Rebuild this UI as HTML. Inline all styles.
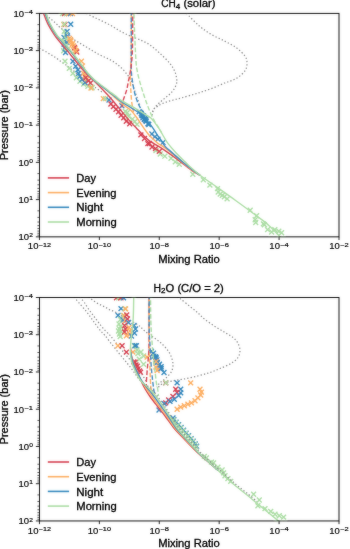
<!DOCTYPE html>
<html><head><meta charset="utf-8"><style>
html,body{margin:0;padding:0;background:#fff;width:350px;height:549px;overflow:hidden}
svg{display:block;will-change:transform}
text{font-family:"Liberation Sans",sans-serif;stroke:#000;stroke-width:0.3px;paint-order:stroke}
text.tk{stroke-width:0.18px}
</style></head><body>
<svg width="350" height="549" viewBox="0 0 350 549" font-family="Liberation Sans, sans-serif">
<defs><filter id="bl" x="0" y="0" width="350" height="549" filterUnits="userSpaceOnUse"><feGaussianBlur in="SourceGraphic" stdDeviation="0.8" result="b"/><feComposite in="SourceGraphic" in2="b" operator="arithmetic" k1="0" k2="0.65" k3="0.35" k4="0"/></filter><filter id="tb" x="0" y="0" width="350" height="549" filterUnits="userSpaceOnUse"><feGaussianBlur in="SourceGraphic" stdDeviation="0.8" result="b"/><feComposite in="SourceGraphic" in2="b" operator="arithmetic" k1="0" k2="0.75" k3="0.25" k4="0"/></filter></defs>
<rect width="350" height="549" fill="#fff"/>
<g filter="url(#bl)">
<defs><clipPath id="c0"><rect x="39.45" y="13.4" width="299.55" height="223.45"/></clipPath><clipPath id="c1"><rect x="39.45" y="297.5" width="299.55" height="223.45"/></clipPath></defs>
<g clip-path="url(#c0)">
<path d="M46.50,14.80 C47.02,15.33 48.62,17.10 49.60,18.00 C50.58,18.90 51.50,19.43 52.40,20.20 C53.30,20.97 54.15,21.82 55.00,22.60 C55.85,23.38 56.67,24.10 57.50,24.90 C58.33,25.70 58.75,26.30 60.00,27.40 C61.25,28.50 63.33,30.10 65.00,31.50 C66.67,32.90 68.40,34.38 70.00,35.80 C71.60,37.22 73.25,38.95 74.60,40.00 C75.95,41.05 76.92,41.38 78.10,42.10 C79.28,42.82 80.50,43.58 81.70,44.30 C82.90,45.02 84.10,45.68 85.30,46.40 C86.50,47.12 87.72,47.88 88.90,48.60 C90.08,49.32 91.22,49.98 92.40,50.70 C93.58,51.42 94.73,52.18 96.00,52.90 C97.27,53.62 98.48,54.25 100.00,55.00 C101.52,55.75 103.38,56.58 105.10,57.40 C106.82,58.22 108.58,58.97 110.30,59.90 C112.02,60.83 113.83,61.93 115.40,63.00 C116.97,64.07 118.27,65.03 119.70,66.30 C121.13,67.57 122.72,69.17 124.00,70.60 C125.28,72.03 126.40,73.62 127.40,74.90 C128.40,76.18 129.13,76.73 130.00,78.30 C130.87,79.87 131.88,82.45 132.60,84.30 C133.32,86.15 133.73,87.68 134.30,89.40 C134.87,91.12 135.38,92.83 136.00,94.60 C136.62,96.37 137.33,98.10 138.00,100.00 C138.67,101.90 139.67,105.00 140.00,106.00" fill="none" stroke="#878787" stroke-width="1.25" stroke-dasharray="1.3 2.1" stroke-dashoffset="0.00" stroke-linecap="butt" stroke-linejoin="round"/>
<path d="M39.50,48.20 C39.90,48.45 40.92,49.17 41.90,49.70 C42.88,50.23 44.22,50.75 45.40,51.40 C46.58,52.05 47.80,52.88 49.00,53.60 C50.20,54.32 51.42,54.98 52.60,55.70 C53.78,56.42 54.92,57.07 56.10,57.90 C57.28,58.73 58.50,59.87 59.70,60.70 C60.90,61.53 62.10,62.07 63.30,62.90 C64.50,63.73 65.83,64.87 66.90,65.70 C67.97,66.53 68.63,67.07 69.70,67.90 C70.77,68.73 72.10,69.75 73.30,70.70 C74.50,71.65 75.72,72.65 76.90,73.60 C78.08,74.55 78.55,75.00 80.40,76.40 C82.25,77.80 85.40,80.07 88.00,82.00 C90.60,83.93 93.67,86.33 96.00,88.00 C98.33,89.67 101.00,91.33 102.00,92.00" fill="none" stroke="#878787" stroke-width="1.25" stroke-dasharray="1.3 2.1" stroke-dashoffset="0.00" stroke-linecap="butt" stroke-linejoin="round"/>
<path d="M86.50,13.40 C86.87,13.60 87.75,14.12 88.70,14.60 C89.65,15.08 91.05,15.73 92.20,16.30 C93.35,16.87 94.60,17.52 95.60,18.00 C96.60,18.48 95.80,18.03 98.20,19.20 C100.60,20.37 106.37,23.03 110.00,25.00 C113.63,26.97 116.67,29.17 120.00,31.00 C123.33,32.83 126.83,34.60 130.00,36.00 C133.17,37.40 135.78,37.97 139.00,39.40 C142.22,40.83 145.87,42.32 149.30,44.60 C152.73,46.88 156.17,49.97 159.60,53.10 C163.03,56.23 167.33,60.25 169.90,63.40 C172.47,66.55 173.87,69.40 175.00,72.00 C176.13,74.60 176.42,77.18 176.70,79.00 C176.98,80.82 177.12,81.25 176.70,82.90 C176.28,84.55 175.33,87.05 174.20,88.90 C173.07,90.75 171.48,92.43 169.90,94.00 C168.32,95.57 166.42,96.87 164.70,98.30 C162.98,99.73 161.17,101.17 159.60,102.60 C158.03,104.03 156.45,105.33 155.30,106.90 C154.15,108.47 153.27,110.43 152.70,112.00 C152.13,113.57 152.03,115.58 151.90,116.30" fill="none" stroke="#878787" stroke-width="1.25" stroke-dasharray="1.3 2.1" stroke-dashoffset="0.00" stroke-linecap="butt" stroke-linejoin="round"/>
<path d="M186.50,13.40 C188.58,15.45 194.92,22.22 199.00,25.70 C203.08,29.18 206.72,31.73 211.00,34.30 C215.28,36.87 220.42,38.82 224.70,41.10 C228.98,43.38 233.27,45.42 236.70,48.00 C240.13,50.58 243.58,54.03 245.30,56.60 C247.02,59.17 247.00,61.12 247.00,63.40 C247.00,65.68 246.73,68.02 245.30,70.30 C243.87,72.58 240.68,75.38 238.40,77.10 C236.12,78.82 233.88,79.62 231.60,80.60 C229.32,81.58 227.57,81.87 224.70,83.00 C221.83,84.13 218.02,85.98 214.40,87.40 C210.78,88.82 206.42,90.35 203.00,91.50 C199.58,92.65 197.42,93.25 193.90,94.30 C190.38,95.35 185.33,96.85 181.90,97.80 C178.47,98.75 176.17,99.20 173.30,100.00 C170.43,100.80 167.27,101.60 164.70,102.60 C162.13,103.60 159.75,104.87 157.90,106.00 C156.05,107.13 154.58,108.07 153.60,109.40 C152.62,110.73 152.27,113.23 152.00,114.00" fill="none" stroke="#878787" stroke-width="1.25" stroke-dasharray="1.3 2.1" stroke-dashoffset="0.00" stroke-linecap="butt" stroke-linejoin="round"/>
<path d="M60.05,11.15 L64.95,16.05 M60.05,16.05 L64.95,11.15" stroke="#abdda4" stroke-width="1.35" fill="none"/>
<path d="M62.05,11.15 L66.95,16.05 M62.05,16.05 L66.95,11.15" stroke="#d53e4f" stroke-width="1.35" fill="none"/>
<path d="M64.05,11.15 L68.95,16.05 M64.05,16.05 L68.95,11.15" stroke="#abdda4" stroke-width="1.35" fill="none"/>
<path d="M66.05,11.15 L70.95,16.05 M66.05,16.05 L70.95,11.15" stroke="#fdae61" stroke-width="1.35" fill="none"/>
<path d="M68.05,11.15 L72.95,16.05 M68.05,16.05 L72.95,11.15" stroke="#3288bd" stroke-width="1.35" fill="none"/>
<path d="M70.05,11.15 L74.95,16.05 M70.05,16.05 L74.95,11.15" stroke="#fdae61" stroke-width="1.35" fill="none"/>
<path d="M62.55,22.05 L67.45,26.95 M62.55,26.95 L67.45,22.05" stroke="#d53e4f" stroke-width="1.35" fill="none"/>
<path d="M61.35,22.05 L66.25,26.95 M61.35,26.95 L66.25,22.05" stroke="#fdae61" stroke-width="1.35" fill="none"/>
<path d="M61.85,21.85 L66.75,26.75 M61.85,26.75 L66.75,21.85" stroke="#abdda4" stroke-width="1.35" fill="none"/>
<path d="M68.25,21.85 L73.15,26.75 M68.25,26.75 L73.15,21.85" stroke="#3288bd" stroke-width="1.35" fill="none"/>
<path d="M61.85,28.95 L66.75,33.85 M61.85,33.85 L66.75,28.95" stroke="#abdda4" stroke-width="1.35" fill="none"/>
<path d="M64.65,28.95 L69.55,33.85 M64.65,33.85 L69.55,28.95" stroke="#3288bd" stroke-width="1.35" fill="none"/>
<path d="M63.05,32.05 L67.95,36.95 M63.05,36.95 L67.95,32.05" stroke="#abdda4" stroke-width="1.35" fill="none"/>
<path d="M65.05,33.55 L69.95,38.45 M65.05,38.45 L69.95,33.55" stroke="#3288bd" stroke-width="1.35" fill="none"/>
<path d="M61.55,35.05 L66.45,39.95 M61.55,39.95 L66.45,35.05" stroke="#3288bd" stroke-width="1.35" fill="none"/>
<path d="M64.05,36.55 L68.95,41.45 M64.05,41.45 L68.95,36.55" stroke="#abdda4" stroke-width="1.35" fill="none"/>
<path d="M62.05,38.55 L66.95,43.45 M62.05,43.45 L66.95,38.55" stroke="#abdda4" stroke-width="1.35" fill="none"/>
<path d="M64.55,40.05 L69.45,44.95 M64.55,44.95 L69.45,40.05" stroke="#3288bd" stroke-width="1.35" fill="none"/>
<path d="M61.55,41.55 L66.45,46.45 M61.55,46.45 L66.45,41.55" stroke="#3288bd" stroke-width="1.35" fill="none"/>
<path d="M63.55,43.55 L68.45,48.45 M63.55,48.45 L68.45,43.55" stroke="#abdda4" stroke-width="1.35" fill="none"/>
<path d="M62.05,45.55 L66.95,50.45 M62.05,50.45 L66.95,45.55" stroke="#3288bd" stroke-width="1.35" fill="none"/>
<path d="M64.35,47.05 L69.25,51.95 M64.35,51.95 L69.25,47.05" stroke="#abdda4" stroke-width="1.35" fill="none"/>
<path d="M61.15,48.25 L66.05,53.15 M61.15,53.15 L66.05,48.25" stroke="#abdda4" stroke-width="1.35" fill="none"/>
<path d="M63.05,50.05 L67.95,54.95 M63.05,54.95 L67.95,50.05" stroke="#3288bd" stroke-width="1.35" fill="none"/>
<path d="M67.05,36.05 L71.95,40.95 M67.05,40.95 L71.95,36.05" stroke="#fdae61" stroke-width="1.35" fill="none"/>
<path d="M68.55,38.55 L73.45,43.45 M68.55,43.45 L73.45,38.55" stroke="#fdae61" stroke-width="1.35" fill="none"/>
<path d="M70.05,41.05 L74.95,45.95 M70.05,45.95 L74.95,41.05" stroke="#fdae61" stroke-width="1.35" fill="none"/>
<path d="M71.05,43.55 L75.95,48.45 M71.05,48.45 L75.95,43.55" stroke="#fdae61" stroke-width="1.35" fill="none"/>
<path d="M72.55,46.05 L77.45,50.95 M72.55,50.95 L77.45,46.05" stroke="#fdae61" stroke-width="1.35" fill="none"/>
<path d="M73.85,48.55 L78.75,53.45 M73.85,53.45 L78.75,48.55" stroke="#fdae61" stroke-width="1.35" fill="none"/>
<path d="M72.05,45.05 L76.95,49.95 M72.05,49.95 L76.95,45.05" stroke="#d53e4f" stroke-width="1.35" fill="none"/>
<path d="M74.35,49.55 L79.25,54.45 M74.35,54.45 L79.25,49.55" stroke="#d53e4f" stroke-width="1.35" fill="none"/>
<path d="M68.05,37.55 L72.95,42.45 M68.05,42.45 L72.95,37.55" stroke="#fdae61" stroke-width="1.35" fill="none"/>
<path d="M69.55,42.55 L74.45,47.45 M69.55,47.45 L74.45,42.55" stroke="#fdae61" stroke-width="1.35" fill="none"/>
<path d="M73.05,48.05 L77.95,52.95 M73.05,52.95 L77.95,48.05" stroke="#fdae61" stroke-width="1.35" fill="none"/>
<path d="M62.55,58.85 L67.45,63.75 M62.55,63.75 L67.45,58.85" stroke="#abdda4" stroke-width="1.35" fill="none"/>
<path d="M66.85,65.95 L71.75,70.85 M66.85,70.85 L71.75,65.95" stroke="#abdda4" stroke-width="1.35" fill="none"/>
<path d="M70.45,70.95 L75.35,75.85 M70.45,75.85 L75.35,70.95" stroke="#abdda4" stroke-width="1.35" fill="none"/>
<path d="M73.95,75.25 L78.85,80.15 M73.95,80.15 L78.85,75.25" stroke="#abdda4" stroke-width="1.35" fill="none"/>
<path d="M77.55,78.85 L82.45,83.75 M77.55,83.75 L82.45,78.85" stroke="#abdda4" stroke-width="1.35" fill="none"/>
<path d="M81.15,81.65 L86.05,86.55 M81.15,86.55 L86.05,81.65" stroke="#abdda4" stroke-width="1.35" fill="none"/>
<path d="M85.45,83.85 L90.35,88.75 M85.45,88.75 L90.35,83.85" stroke="#abdda4" stroke-width="1.35" fill="none"/>
<path d="M89.65,85.25 L94.55,90.15 M89.65,90.15 L94.55,85.25" stroke="#abdda4" stroke-width="1.35" fill="none"/>
<path d="M70.45,58.85 L75.35,63.75 M70.45,63.75 L75.35,58.85" stroke="#3288bd" stroke-width="1.35" fill="none"/>
<path d="M73.25,63.85 L78.15,68.75 M73.25,68.75 L78.15,63.85" stroke="#3288bd" stroke-width="1.35" fill="none"/>
<path d="M75.45,67.45 L80.35,72.35 M75.45,72.35 L80.35,67.45" stroke="#3288bd" stroke-width="1.35" fill="none"/>
<path d="M76.15,70.95 L81.05,75.85 M76.15,75.85 L81.05,70.95" stroke="#3288bd" stroke-width="1.35" fill="none"/>
<path d="M77.55,73.85 L82.45,78.75 M77.55,78.75 L82.45,73.85" stroke="#3288bd" stroke-width="1.35" fill="none"/>
<path d="M79.55,77.05 L84.45,81.95 M79.55,81.95 L84.45,77.05" stroke="#3288bd" stroke-width="1.35" fill="none"/>
<path d="M82.55,80.05 L87.45,84.95 M82.55,84.95 L87.45,80.05" stroke="#3288bd" stroke-width="1.35" fill="none"/>
<path d="M78.95,58.85 L83.85,63.75 M78.95,63.75 L83.85,58.85" stroke="#fdae61" stroke-width="1.35" fill="none"/>
<path d="M80.05,63.55 L84.95,68.45 M80.05,68.45 L84.95,63.55" stroke="#fdae61" stroke-width="1.35" fill="none"/>
<path d="M81.15,70.95 L86.05,75.85 M81.15,75.85 L86.05,70.95" stroke="#fdae61" stroke-width="1.35" fill="none"/>
<path d="M82.55,73.55 L87.45,78.45 M82.55,78.45 L87.45,73.55" stroke="#fdae61" stroke-width="1.35" fill="none"/>
<path d="M84.55,76.55 L89.45,81.45 M84.55,81.45 L89.45,76.55" stroke="#fdae61" stroke-width="1.35" fill="none"/>
<path d="M83.25,75.25 L88.15,80.15 M83.25,80.15 L88.15,75.25" stroke="#d53e4f" stroke-width="1.35" fill="none"/>
<path d="M86.15,78.15 L91.05,83.05 M86.15,83.05 L91.05,78.15" stroke="#d53e4f" stroke-width="1.35" fill="none"/>
<path d="M88.05,80.55 L92.95,85.45 M88.05,85.45 L92.95,80.55" stroke="#d53e4f" stroke-width="1.35" fill="none"/>
<path d="M89.45,84.65 L94.35,89.55 M89.45,89.55 L94.35,84.65" stroke="#abdda4" stroke-width="1.35" fill="none"/>
<path d="M88.55,85.55 L93.45,90.45 M88.55,90.45 L93.45,85.55" stroke="#fdae61" stroke-width="1.35" fill="none"/>
<path d="M100.85,96.15 L105.75,101.05 M100.85,101.05 L105.75,96.15" stroke="#fdae61" stroke-width="1.35" fill="none"/>
<path d="M102.95,96.15 L107.85,101.05 M102.95,101.05 L107.85,96.15" stroke="#abdda4" stroke-width="1.35" fill="none"/>
<path d="M106.55,97.55 L111.45,102.45 M106.55,102.45 L111.45,97.55" stroke="#3288bd" stroke-width="1.35" fill="none"/>
<path d="M119.45,103.25 L124.35,108.15 M119.45,108.15 L124.35,103.25" stroke="#3288bd" stroke-width="1.35" fill="none"/>
<path d="M122.95,109.02 L127.85,113.92 M122.95,113.92 L127.85,109.02" stroke="#abdda4" stroke-width="1.35" fill="none"/>
<path d="M124.79,110.26 L129.69,115.16 M124.79,115.16 L129.69,110.26" stroke="#abdda4" stroke-width="1.35" fill="none"/>
<path d="M126.21,113.80 L131.11,118.70 M126.21,118.70 L131.11,113.80" stroke="#abdda4" stroke-width="1.35" fill="none"/>
<path d="M129.92,116.61 L134.82,121.51 M129.92,121.51 L134.82,116.61" stroke="#abdda4" stroke-width="1.35" fill="none"/>
<path d="M132.27,119.22 L137.17,124.12 M132.27,124.12 L137.17,119.22" stroke="#abdda4" stroke-width="1.35" fill="none"/>
<path d="M134.60,121.87 L139.50,126.77 M134.60,126.77 L139.50,121.87" stroke="#abdda4" stroke-width="1.35" fill="none"/>
<path d="M136.70,109.35 L141.60,114.25 M136.70,114.25 L141.60,109.35" stroke="#3288bd" stroke-width="1.35" fill="none"/>
<path d="M138.78,110.98 L143.68,115.88 M138.78,115.88 L143.68,110.98" stroke="#3288bd" stroke-width="1.35" fill="none"/>
<path d="M139.98,113.35 L144.88,118.25 M139.98,118.25 L144.88,113.35" stroke="#3288bd" stroke-width="1.35" fill="none"/>
<path d="M140.45,115.42 L145.35,120.32 M140.45,120.32 L145.35,115.42" stroke="#3288bd" stroke-width="1.35" fill="none"/>
<path d="M141.84,117.06 L146.74,121.96 M141.84,121.96 L146.74,117.06" stroke="#3288bd" stroke-width="1.35" fill="none"/>
<path d="M143.33,118.16 L148.23,123.06 M143.33,123.06 L148.23,118.16" stroke="#3288bd" stroke-width="1.35" fill="none"/>
<path d="M145.47,121.42 L150.37,126.32 M145.47,126.32 L150.37,121.42" stroke="#3288bd" stroke-width="1.35" fill="none"/>
<path d="M146.30,122.00 L151.20,126.90 M146.30,126.90 L151.20,122.00" stroke="#3288bd" stroke-width="1.35" fill="none"/>
<path d="M139.09,112.54 L143.99,117.44 M139.09,117.44 L143.99,112.54" stroke="#3288bd" stroke-width="1.35" fill="none"/>
<path d="M141.16,113.46 L146.06,118.36 M141.16,118.36 L146.06,113.46" stroke="#3288bd" stroke-width="1.35" fill="none"/>
<path d="M142.23,115.88 L147.13,120.78 M142.23,120.78 L147.13,115.88" stroke="#3288bd" stroke-width="1.35" fill="none"/>
<path d="M143.43,116.68 L148.33,121.58 M143.43,121.58 L148.33,116.68" stroke="#3288bd" stroke-width="1.35" fill="none"/>
<path d="M143.79,118.86 L148.69,123.76 M143.79,123.76 L148.69,118.86" stroke="#3288bd" stroke-width="1.35" fill="none"/>
<path d="M149.40,131.57 L154.30,136.47 M149.40,136.47 L154.30,131.57" stroke="#3288bd" stroke-width="1.35" fill="none"/>
<path d="M152.40,134.36 L157.30,139.26 M152.40,139.26 L157.30,134.36" stroke="#3288bd" stroke-width="1.35" fill="none"/>
<path d="M155.52,136.74 L160.42,141.64 M155.52,141.64 L160.42,136.74" stroke="#3288bd" stroke-width="1.35" fill="none"/>
<path d="M160.55,139.97 L165.45,144.87 M160.55,144.87 L165.45,139.97" stroke="#3288bd" stroke-width="1.35" fill="none"/>
<path d="M153.49,148.05 L158.39,152.95 M153.49,152.95 L158.39,148.05" stroke="#abdda4" stroke-width="1.35" fill="none"/>
<path d="M157.77,151.58 L162.67,156.48 M157.77,156.48 L162.67,151.58" stroke="#abdda4" stroke-width="1.35" fill="none"/>
<path d="M162.36,153.73 L167.26,158.63 M162.36,158.63 L167.26,153.73" stroke="#abdda4" stroke-width="1.35" fill="none"/>
<path d="M168.59,155.80 L173.49,160.70 M168.59,160.70 L173.49,155.80" stroke="#abdda4" stroke-width="1.35" fill="none"/>
<path d="M172.84,159.40 L177.74,164.30 M172.84,164.30 L177.74,159.40" stroke="#abdda4" stroke-width="1.35" fill="none"/>
<path d="M176.82,161.76 L181.72,166.66 M176.82,166.66 L181.72,161.76" stroke="#abdda4" stroke-width="1.35" fill="none"/>
<path d="M190.35,171.75 L195.25,176.65 M190.35,176.65 L195.25,171.75" stroke="#abdda4" stroke-width="1.35" fill="none"/>
<path d="M200.85,177.35 L205.75,182.25 M200.85,182.25 L205.75,177.35" stroke="#abdda4" stroke-width="1.35" fill="none"/>
<path d="M207.45,182.65 L212.35,187.55 M207.45,187.55 L212.35,182.65" stroke="#abdda4" stroke-width="1.35" fill="none"/>
<path d="M215.05,186.15 L219.95,191.05 M215.05,191.05 L219.95,186.15" stroke="#abdda4" stroke-width="1.35" fill="none"/>
<path d="M215.75,189.55 L220.65,194.45 M215.75,194.45 L220.65,189.55" stroke="#abdda4" stroke-width="1.35" fill="none"/>
<path d="M217.75,191.65 L222.65,196.55 M217.75,196.55 L222.65,191.65" stroke="#abdda4" stroke-width="1.35" fill="none"/>
<path d="M219.85,192.95 L224.75,197.85 M219.85,197.85 L224.75,192.95" stroke="#abdda4" stroke-width="1.35" fill="none"/>
<path d="M221.95,194.35 L226.85,199.25 M221.95,199.25 L226.85,194.35" stroke="#abdda4" stroke-width="1.35" fill="none"/>
<path d="M224.65,196.45 L229.55,201.35 M224.65,201.35 L229.55,196.45" stroke="#abdda4" stroke-width="1.35" fill="none"/>
<path d="M247.75,207.75 L252.65,212.65 M247.75,212.65 L252.65,207.75" stroke="#abdda4" stroke-width="1.35" fill="none"/>
<path d="M254.15,213.25 L259.05,218.15 M254.15,218.15 L259.05,213.25" stroke="#abdda4" stroke-width="1.35" fill="none"/>
<path d="M252.75,217.35 L257.65,222.25 M252.75,222.25 L257.65,217.35" stroke="#abdda4" stroke-width="1.35" fill="none"/>
<path d="M253.25,220.05 L258.15,224.95 M253.25,224.95 L258.15,220.05" stroke="#abdda4" stroke-width="1.35" fill="none"/>
<path d="M260.95,221.45 L265.85,226.35 M260.95,226.35 L265.85,221.45" stroke="#abdda4" stroke-width="1.35" fill="none"/>
<path d="M261.95,222.35 L266.85,227.25 M261.95,227.25 L266.85,222.35" stroke="#abdda4" stroke-width="1.35" fill="none"/>
<path d="M265.15,227.15 L270.05,232.05 M265.15,232.05 L270.05,227.15" stroke="#abdda4" stroke-width="1.35" fill="none"/>
<path d="M269.15,229.55 L274.05,234.45 M269.15,234.45 L274.05,229.55" stroke="#abdda4" stroke-width="1.35" fill="none"/>
<path d="M272.35,227.15 L277.25,232.05 M272.35,232.05 L277.25,227.15" stroke="#abdda4" stroke-width="1.35" fill="none"/>
<path d="M276.35,228.75 L281.25,233.65 M276.35,233.65 L281.25,228.75" stroke="#abdda4" stroke-width="1.35" fill="none"/>
<path d="M279.15,230.35 L284.05,235.25 M279.15,235.25 L284.05,230.35" stroke="#abdda4" stroke-width="1.35" fill="none"/>
<path d="M108.45,101.55 L113.35,106.45 M108.45,106.45 L113.35,101.55" stroke="#d53e4f" stroke-width="1.35" fill="none"/>
<path d="M110.95,104.15 L115.85,109.05 M110.95,109.05 L115.85,104.15" stroke="#d53e4f" stroke-width="1.35" fill="none"/>
<path d="M113.55,106.75 L118.45,111.65 M113.55,111.65 L118.45,106.75" stroke="#d53e4f" stroke-width="1.35" fill="none"/>
<path d="M116.15,109.25 L121.05,114.15 M116.15,114.15 L121.05,109.25" stroke="#d53e4f" stroke-width="1.35" fill="none"/>
<path d="M118.65,112.75 L123.55,117.65 M118.65,117.65 L123.55,112.75" stroke="#d53e4f" stroke-width="1.35" fill="none"/>
<path d="M121.25,115.25 L126.15,120.15 M121.25,120.15 L126.15,115.25" stroke="#d53e4f" stroke-width="1.35" fill="none"/>
<path d="M123.85,118.75 L128.75,123.65 M123.85,123.65 L128.75,118.75" stroke="#d53e4f" stroke-width="1.35" fill="none"/>
<path d="M127.25,121.25 L132.15,126.15 M127.25,126.15 L132.15,121.25" stroke="#d53e4f" stroke-width="1.35" fill="none"/>
<path d="M138.45,132.45 L143.35,137.35 M138.45,137.35 L143.35,132.45" stroke="#d53e4f" stroke-width="1.35" fill="none"/>
<path d="M142.05,136.05 L146.95,140.95 M142.05,140.95 L146.95,136.05" stroke="#d53e4f" stroke-width="1.35" fill="none"/>
<path d="M147.05,141.05 L151.95,145.95 M147.05,145.95 L151.95,141.05" stroke="#d53e4f" stroke-width="1.35" fill="none"/>
<path d="M153.05,146.15 L157.95,151.05 M153.05,151.05 L157.95,146.15" stroke="#d53e4f" stroke-width="1.35" fill="none"/>
<path d="M145.45,141.15 L150.35,146.05 M145.45,146.05 L150.35,141.15" stroke="#d53e4f" stroke-width="1.35" fill="none"/>
<path d="M149.55,144.55 L154.45,149.45 M149.55,149.45 L154.45,144.55" stroke="#d53e4f" stroke-width="1.35" fill="none"/>
<path d="M156.85,148.95 L161.75,153.85 M156.85,153.85 L161.75,148.95" stroke="#d53e4f" stroke-width="1.35" fill="none"/>
<path d="M133.80,10.00 C133.92,13.33 134.15,21.67 134.50,30.00 C134.85,38.33 135.43,53.10 135.90,60.00 C136.37,66.90 136.60,67.58 137.30,71.40 C138.00,75.22 139.05,79.08 140.10,82.90 C141.15,86.72 142.45,90.78 143.60,94.30 C144.75,97.82 145.85,100.88 147.00,104.00 C148.15,107.12 149.22,110.08 150.50,113.00 C151.78,115.92 153.37,119.08 154.70,121.50 C156.03,123.92 157.37,125.67 158.50,127.50 C159.63,129.33 161.00,131.67 161.50,132.50" fill="none" stroke="#abdda4" stroke-width="1.4" stroke-dasharray="4.7 2.0" stroke-dashoffset="2.70" stroke-linecap="butt" stroke-linejoin="round"/>
<path d="M131.30,10.00 C131.28,16.67 131.28,40.83 131.20,50.00 C131.12,59.17 130.93,60.00 130.80,65.00 C130.67,70.00 130.40,75.83 130.40,80.00 C130.40,84.17 130.62,86.67 130.80,90.00 C130.98,93.33 131.25,97.33 131.50,100.00 C131.75,102.67 131.97,104.00 132.30,106.00 C132.63,108.00 133.30,111.00 133.50,112.00" fill="none" stroke="#fdae61" stroke-width="1.4" stroke-dasharray="4.7 2.0" stroke-dashoffset="2.04" stroke-linecap="butt" stroke-linejoin="round"/>
<path d="M131.30,10.00 C131.30,18.33 131.30,49.77 131.30,60.00 C131.30,70.23 131.07,67.58 131.30,71.40 C131.53,75.22 132.08,79.08 132.70,82.90 C133.32,86.72 134.05,90.78 135.00,94.30 C135.95,97.82 137.23,101.30 138.40,104.00 C139.57,106.70 140.73,108.50 142.00,110.50 C143.27,112.50 145.33,115.08 146.00,116.00" fill="none" stroke="#3288bd" stroke-width="1.4" stroke-dasharray="4.7 2.0" stroke-dashoffset="5.74" stroke-linecap="butt" stroke-linejoin="round"/>
<path d="M132.70,10.00 C132.68,15.00 132.68,32.50 132.60,40.00 C132.52,47.50 132.42,50.83 132.20,55.00 C131.98,59.17 131.60,62.27 131.30,65.00 C131.00,67.73 130.73,69.38 130.40,71.40 C130.07,73.42 129.68,75.18 129.30,77.10 C128.92,79.02 128.48,80.98 128.10,82.90 C127.72,84.82 127.47,86.70 127.00,88.60 C126.53,90.50 125.87,92.57 125.30,94.30 C124.73,96.03 124.08,97.38 123.60,99.00 C123.12,100.62 122.75,102.42 122.40,104.00 C122.05,105.58 121.65,107.75 121.50,108.50" fill="none" stroke="#d53e4f" stroke-width="1.4" stroke-dasharray="4.7 2.0" stroke-dashoffset="0.10" stroke-linecap="butt" stroke-linejoin="round"/>
<path d="M43.60,13.40 C44.27,15.07 45.80,19.82 47.60,23.40 C49.40,26.98 52.62,32.13 54.40,34.90 C56.18,37.67 55.70,36.82 58.30,40.00 C60.90,43.18 65.55,48.62 70.00,54.00 C74.45,59.38 81.07,67.88 85.00,72.30 C88.93,76.72 90.75,77.72 93.60,80.50 C96.45,83.28 99.25,86.05 102.10,89.00 C104.95,91.95 108.05,95.22 110.70,98.20 C113.35,101.18 115.45,103.83 118.00,106.90 C120.55,109.97 123.67,113.85 126.00,116.60 C128.33,119.35 130.28,121.50 132.00,123.40 C133.72,125.30 134.87,126.47 136.30,128.00 C137.73,129.53 139.17,131.12 140.60,132.60 C142.03,134.08 143.48,135.57 144.90,136.90 C146.32,138.23 147.53,139.45 149.10,140.60 C150.67,141.75 152.43,142.68 154.30,143.80 C156.17,144.92 157.08,145.17 160.30,147.30 C163.52,149.43 169.48,153.60 173.60,156.60 C177.72,159.60 181.93,162.97 185.00,165.30 C188.07,167.63 189.50,168.95 192.00,170.60 C194.50,172.25 198.67,174.43 200.00,175.20" fill="none" stroke="#d53e4f" stroke-width="1.4" stroke-linecap="butt" stroke-linejoin="round"/>
<path d="M45.10,13.40 C45.77,15.07 47.28,19.82 49.10,23.40 C50.92,26.98 54.05,32.10 56.00,34.90 C57.95,37.70 58.08,37.08 60.80,40.20 C63.52,43.32 68.13,48.38 72.30,53.60 C76.47,58.82 82.60,67.48 85.80,71.50 C89.00,75.52 89.72,75.90 91.50,77.70 C93.28,79.50 94.67,80.77 96.50,82.30 C98.33,83.83 100.80,85.58 102.50,86.90 C104.20,88.22 105.20,88.93 106.70,90.20 C108.20,91.47 109.53,92.73 111.50,94.50 C113.47,96.27 116.33,98.95 118.50,100.80 C120.67,102.65 122.40,103.98 124.50,105.60 C126.60,107.22 129.13,108.60 131.10,110.50 C133.07,112.40 134.82,115.00 136.30,117.00 C137.78,119.00 138.72,120.62 140.00,122.50 C141.28,124.38 142.62,126.33 144.00,128.30 C145.38,130.27 146.87,132.58 148.30,134.30 C149.73,136.02 151.03,137.12 152.60,138.60 C154.17,140.08 155.87,141.82 157.70,143.20 C159.53,144.58 160.95,145.00 163.60,146.90 C166.25,148.80 170.03,151.70 173.60,154.60 C177.17,157.50 181.93,161.73 185.00,164.30 C188.07,166.87 189.50,168.18 192.00,170.00 C194.50,171.82 198.67,174.33 200.00,175.20" fill="none" stroke="#fdae61" stroke-width="1.4" stroke-linecap="butt" stroke-linejoin="round"/>
<path d="M45.20,13.40 C45.87,15.07 47.38,19.82 49.20,23.40 C51.02,26.98 54.15,32.10 56.10,34.90 C58.05,37.70 58.18,37.08 60.90,40.20 C63.62,43.32 68.23,48.38 72.40,53.60 C76.57,58.82 82.70,67.48 85.90,71.50 C89.10,75.52 89.82,75.90 91.60,77.70 C93.38,79.50 94.77,80.77 96.60,82.30 C98.43,83.83 100.93,85.62 102.60,86.90 C104.27,88.18 105.20,88.90 106.60,90.00 C108.00,91.10 109.60,92.40 111.00,93.50 C112.40,94.60 113.27,95.23 115.00,96.60 C116.73,97.97 118.42,99.65 121.40,101.70 C124.38,103.75 129.47,106.67 132.90,108.90 C136.33,111.13 139.43,112.87 142.00,115.10 C144.57,117.33 146.53,120.22 148.30,122.30 C150.07,124.38 151.17,125.60 152.60,127.60 C154.03,129.60 155.48,132.18 156.90,134.30 C158.32,136.42 159.75,138.32 161.10,140.30 C162.45,142.28 162.92,143.92 165.00,146.20 C167.08,148.48 170.75,151.45 173.60,154.00 C176.45,156.55 179.03,158.92 182.10,161.50 C185.17,164.08 189.02,167.22 192.00,169.50 C194.98,171.78 198.67,174.25 200.00,175.20" fill="none" stroke="#3288bd" stroke-width="1.4" stroke-linecap="butt" stroke-linejoin="round"/>
<path d="M45.90,13.40 C46.57,15.07 48.08,19.82 49.90,23.40 C51.72,26.98 54.88,32.13 56.80,34.90 C58.72,37.67 58.72,36.93 61.40,40.00 C64.08,43.07 68.75,48.10 72.90,53.30 C77.05,58.50 83.12,67.18 86.30,71.20 C89.48,75.22 90.22,75.60 92.00,77.40 C93.78,79.20 95.17,80.48 97.00,82.00 C98.83,83.52 101.33,85.25 103.00,86.50 C104.67,87.75 105.60,88.43 107.00,89.50 C108.40,90.57 110.00,91.85 111.40,92.90 C112.80,93.95 113.72,94.52 115.40,95.80 C117.08,97.08 118.58,98.75 121.50,100.60 C124.42,102.45 129.10,104.70 132.90,106.90 C136.70,109.10 141.30,111.95 144.30,113.80 C147.30,115.65 149.10,116.45 150.90,118.00 C152.70,119.55 153.68,121.25 155.10,123.10 C156.52,124.95 158.17,127.20 159.40,129.10 C160.63,131.00 161.08,132.12 162.50,134.50 C163.92,136.88 165.58,140.28 167.90,143.40 C170.22,146.52 173.55,150.13 176.40,153.20 C179.25,156.27 182.40,159.23 185.00,161.80 C187.60,164.37 189.50,166.37 192.00,168.60 C194.50,170.83 196.83,172.80 200.00,175.20 C203.17,177.60 205.00,178.75 211.00,183.00 C217.00,187.25 227.50,194.55 236.00,200.70 C244.50,206.85 256.33,215.60 262.00,219.90 C267.67,224.20 267.12,223.82 270.00,226.50 C272.88,229.18 277.63,234.17 279.30,236.00 C280.97,237.83 279.88,237.25 280.00,237.50" fill="none" stroke="#abdda4" stroke-width="1.4" stroke-linecap="butt" stroke-linejoin="round"/>
</g>
<g clip-path="url(#c1)">
<path d="M74.50,297.00 C74.70,297.32 75.02,298.00 75.70,298.90 C76.38,299.80 77.40,300.98 78.60,302.40 C79.80,303.82 81.48,305.73 82.90,307.40 C84.32,309.07 85.80,310.73 87.10,312.40 C88.40,314.07 89.50,315.73 90.70,317.40 C91.90,319.07 93.10,320.73 94.30,322.40 C95.50,324.07 96.72,325.85 97.90,327.40 C99.08,328.95 100.22,330.35 101.40,331.70 C102.58,333.05 103.57,333.78 105.00,335.50 C106.43,337.22 108.17,339.67 110.00,342.00 C111.83,344.33 114.00,347.00 116.00,349.50 C118.00,352.00 120.10,354.67 122.00,357.00 C123.90,359.33 125.65,361.33 127.40,363.50 C129.15,365.67 130.90,367.83 132.50,370.00 C134.10,372.17 135.58,374.58 137.00,376.50 C138.42,378.42 139.83,380.08 141.00,381.50 C142.17,382.92 143.50,384.42 144.00,385.00" fill="none" stroke="#878787" stroke-width="1.25" stroke-dasharray="1.3 2.1" stroke-dashoffset="0.00" stroke-linecap="butt" stroke-linejoin="round"/>
<path d="M80.50,297.00 C80.65,297.32 80.77,298.00 81.40,298.90 C82.03,299.80 83.22,300.87 84.30,302.40 C85.38,303.93 86.60,306.18 87.90,308.10 C89.20,310.02 90.68,311.98 92.10,313.90 C93.52,315.82 94.97,317.70 96.40,319.60 C97.83,321.50 99.27,323.52 100.70,325.30 C102.13,327.08 103.57,328.75 105.00,330.30 C106.43,331.85 108.23,333.48 109.30,334.60 C110.37,335.72 110.12,335.43 111.40,337.00 C112.68,338.57 115.07,341.58 117.00,344.00 C118.93,346.42 121.00,349.08 123.00,351.50 C125.00,353.92 127.00,356.17 129.00,358.50 C131.00,360.83 133.17,363.33 135.00,365.50 C136.83,367.67 138.67,369.75 140.00,371.50 C141.33,373.25 142.00,374.42 143.00,376.00 C144.00,377.58 145.50,380.17 146.00,381.00" fill="none" stroke="#878787" stroke-width="1.25" stroke-dasharray="1.3 2.1" stroke-dashoffset="0.00" stroke-linecap="butt" stroke-linejoin="round"/>
<path d="M88.50,297.30 C88.75,297.43 89.27,297.60 90.00,298.10 C90.73,298.60 91.72,299.47 92.90,300.30 C94.08,301.13 95.68,302.27 97.10,303.10 C98.52,303.93 99.97,304.58 101.40,305.30 C102.83,306.02 104.38,306.68 105.70,307.40 C107.02,308.12 107.90,308.93 109.30,309.60 C110.70,310.27 112.32,310.50 114.10,311.40 C115.88,312.30 118.02,313.82 120.00,315.00 C121.98,316.18 123.73,317.28 126.00,318.50 C128.27,319.72 131.27,320.97 133.60,322.30 C135.93,323.63 138.28,325.17 140.00,326.50 C141.72,327.83 142.23,328.88 143.90,330.30 C145.57,331.72 147.92,333.47 150.00,335.00 C152.08,336.53 154.57,338.17 156.40,339.50 C158.23,340.83 159.33,341.48 161.00,343.00 C162.67,344.52 164.82,346.60 166.40,348.60 C167.98,350.60 169.42,352.60 170.50,355.00 C171.58,357.40 172.65,360.42 172.90,363.00 C173.15,365.58 172.82,368.33 172.00,370.50 C171.18,372.67 169.50,374.33 168.00,376.00 C166.50,377.67 164.45,379.25 163.00,380.50 C161.55,381.75 160.30,382.42 159.30,383.50 C158.30,384.58 157.38,386.42 157.00,387.00" fill="none" stroke="#878787" stroke-width="1.25" stroke-dasharray="1.3 2.1" stroke-dashoffset="0.00" stroke-linecap="butt" stroke-linejoin="round"/>
<path d="M177.00,297.20 C177.50,297.42 177.83,296.95 180.00,298.50 C182.17,300.05 187.00,304.08 190.00,306.50 C193.00,308.92 195.50,310.83 198.00,313.00 C200.50,315.17 202.17,317.25 205.00,319.50 C207.83,321.75 211.67,324.33 215.00,326.50 C218.33,328.67 222.00,330.67 225.00,332.50 C228.00,334.33 230.92,335.83 233.00,337.50 C235.08,339.17 236.33,340.42 237.50,342.50 C238.67,344.58 239.92,347.50 240.00,350.00 C240.08,352.50 239.50,355.25 238.00,357.50 C236.50,359.75 234.00,361.67 231.00,363.50 C228.00,365.33 223.50,367.00 220.00,368.50 C216.50,370.00 213.57,371.30 210.00,372.50 C206.43,373.70 202.77,374.65 198.60,375.70 C194.43,376.75 189.43,377.92 185.00,378.80 C180.57,379.68 175.67,380.22 172.00,381.00 C168.33,381.78 165.33,382.42 163.00,383.50 C160.67,384.58 158.83,386.83 158.00,387.50" fill="none" stroke="#878787" stroke-width="1.25" stroke-dasharray="1.3 2.1" stroke-dashoffset="0.00" stroke-linecap="butt" stroke-linejoin="round"/>
<path d="M114.05,295.25 L118.95,300.15 M114.05,300.15 L118.95,295.25" stroke="#d53e4f" stroke-width="1.35" fill="none"/>
<path d="M116.25,295.25 L121.15,300.15 M116.25,300.15 L121.15,295.25" stroke="#abdda4" stroke-width="1.35" fill="none"/>
<path d="M118.55,295.25 L123.45,300.15 M118.55,300.15 L123.45,295.25" stroke="#d53e4f" stroke-width="1.35" fill="none"/>
<path d="M121.05,295.25 L125.95,300.15 M121.05,300.15 L125.95,295.25" stroke="#3288bd" stroke-width="1.35" fill="none"/>
<path d="M118.55,306.15 L123.45,311.05 M118.55,311.05 L123.45,306.15" stroke="#3288bd" stroke-width="1.35" fill="none"/>
<path d="M122.55,306.15 L127.45,311.05 M122.55,311.05 L127.45,306.15" stroke="#abdda4" stroke-width="1.35" fill="none"/>
<path d="M123.15,306.45 L128.05,311.35 M123.15,311.35 L128.05,306.45" stroke="#fdae61" stroke-width="1.35" fill="none"/>
<path d="M115.65,312.95 L120.55,317.85 M115.65,317.85 L120.55,312.95" stroke="#3288bd" stroke-width="1.35" fill="none"/>
<path d="M120.85,312.95 L125.75,317.85 M120.85,317.85 L125.75,312.95" stroke="#abdda4" stroke-width="1.35" fill="none"/>
<path d="M121.55,313.25 L126.45,318.15 M121.55,318.15 L126.45,313.25" stroke="#fdae61" stroke-width="1.35" fill="none"/>
<path d="M124.25,312.45 L129.15,317.35 M124.25,317.35 L129.15,312.45" stroke="#d53e4f" stroke-width="1.35" fill="none"/>
<path d="M118.05,317.05 L122.95,321.95 M118.05,321.95 L122.95,317.05" stroke="#abdda4" stroke-width="1.35" fill="none"/>
<path d="M120.55,317.55 L125.45,322.45 M120.55,322.45 L125.45,317.55" stroke="#3288bd" stroke-width="1.35" fill="none"/>
<path d="M123.05,318.05 L127.95,322.95 M123.05,322.95 L127.95,318.05" stroke="#fdae61" stroke-width="1.35" fill="none"/>
<path d="M125.05,316.55 L129.95,321.45 M125.05,321.45 L129.95,316.55" stroke="#d53e4f" stroke-width="1.35" fill="none"/>
<path d="M126.05,320.05 L130.95,324.95 M126.05,324.95 L130.95,320.05" stroke="#3288bd" stroke-width="1.35" fill="none"/>
<path d="M116.55,321.55 L121.45,326.45 M116.55,326.45 L121.45,321.55" stroke="#abdda4" stroke-width="1.35" fill="none"/>
<path d="M118.05,324.05 L122.95,328.95 M118.05,328.95 L122.95,324.05" stroke="#abdda4" stroke-width="1.35" fill="none"/>
<path d="M117.05,326.55 L121.95,331.45 M117.05,331.45 L121.95,326.55" stroke="#abdda4" stroke-width="1.35" fill="none"/>
<path d="M118.55,329.05 L123.45,333.95 M118.55,333.95 L123.45,329.05" stroke="#abdda4" stroke-width="1.35" fill="none"/>
<path d="M117.05,331.55 L121.95,336.45 M117.05,336.45 L121.95,331.55" stroke="#abdda4" stroke-width="1.35" fill="none"/>
<path d="M117.75,334.05 L122.65,338.95 M117.75,338.95 L122.65,334.05" stroke="#abdda4" stroke-width="1.35" fill="none"/>
<path d="M116.05,328.55 L120.95,333.45 M116.05,333.45 L120.95,328.55" stroke="#abdda4" stroke-width="1.35" fill="none"/>
<path d="M122.05,323.05 L126.95,327.95 M122.05,327.95 L126.95,323.05" stroke="#d53e4f" stroke-width="1.35" fill="none"/>
<path d="M123.05,326.55 L127.95,331.45 M123.05,331.45 L127.95,326.55" stroke="#d53e4f" stroke-width="1.35" fill="none"/>
<path d="M122.05,329.55 L126.95,334.45 M122.05,334.45 L126.95,329.55" stroke="#d53e4f" stroke-width="1.35" fill="none"/>
<path d="M126.55,325.05 L131.45,329.95 M126.55,329.95 L131.45,325.05" stroke="#fdae61" stroke-width="1.35" fill="none"/>
<path d="M127.55,328.55 L132.45,333.45 M127.55,333.45 L132.45,328.55" stroke="#fdae61" stroke-width="1.35" fill="none"/>
<path d="M127.05,332.05 L131.95,336.95 M127.05,336.95 L131.95,332.05" stroke="#fdae61" stroke-width="1.35" fill="none"/>
<path d="M131.55,323.05 L136.45,327.95 M131.55,327.95 L136.45,323.05" stroke="#3288bd" stroke-width="1.35" fill="none"/>
<path d="M133.05,326.55 L137.95,331.45 M133.05,331.45 L137.95,326.55" stroke="#3288bd" stroke-width="1.35" fill="none"/>
<path d="M132.05,330.55 L136.95,335.45 M132.05,335.45 L136.95,330.55" stroke="#3288bd" stroke-width="1.35" fill="none"/>
<path d="M123.95,333.25 L128.85,338.15 M123.95,338.15 L128.85,333.25" stroke="#fdae61" stroke-width="1.35" fill="none"/>
<path d="M129.05,333.55 L133.95,338.45 M129.05,338.45 L133.95,333.55" stroke="#3288bd" stroke-width="1.35" fill="none"/>
<path d="M115.45,343.25 L120.35,348.15 M115.45,348.15 L120.35,343.25" stroke="#fdae61" stroke-width="1.35" fill="none"/>
<path d="M119.65,343.25 L124.55,348.15 M119.65,348.15 L124.55,343.25" stroke="#d53e4f" stroke-width="1.35" fill="none"/>
<path d="M131.85,343.25 L136.75,348.15 M131.85,348.15 L136.75,343.25" stroke="#abdda4" stroke-width="1.35" fill="none"/>
<path d="M132.55,343.25 L137.45,348.15 M132.55,348.15 L137.45,343.25" stroke="#3288bd" stroke-width="1.35" fill="none"/>
<path d="M123.95,349.65 L128.85,354.55 M123.95,354.55 L128.85,349.65" stroke="#d53e4f" stroke-width="1.35" fill="none"/>
<path d="M130.45,349.65 L135.35,354.55 M130.45,354.55 L135.35,349.65" stroke="#fdae61" stroke-width="1.35" fill="none"/>
<path d="M135.45,351.15 L140.35,356.05 M135.45,356.05 L140.35,351.15" stroke="#abdda4" stroke-width="1.35" fill="none"/>
<path d="M136.85,356.85 L141.75,361.75 M136.85,361.75 L141.75,356.85" stroke="#abdda4" stroke-width="1.35" fill="none"/>
<path d="M133.95,343.25 L138.85,348.15 M133.95,348.15 L138.85,343.25" stroke="#3288bd" stroke-width="1.35" fill="none"/>
<path d="M134.55,347.55 L139.45,352.45 M134.55,352.45 L139.45,347.55" stroke="#abdda4" stroke-width="1.35" fill="none"/>
<path d="M138.55,349.55 L143.45,354.45 M138.55,354.45 L143.45,349.55" stroke="#abdda4" stroke-width="1.35" fill="none"/>
<path d="M141.15,353.55 L146.05,358.45 M141.15,358.45 L146.05,353.55" stroke="#abdda4" stroke-width="1.35" fill="none"/>
<path d="M144.65,354.65 L149.55,359.55 M144.65,359.55 L149.55,354.65" stroke="#fdae61" stroke-width="1.35" fill="none"/>
<path d="M148.95,348.95 L153.85,353.85 M148.95,353.85 L153.85,348.95" stroke="#3288bd" stroke-width="1.35" fill="none"/>
<path d="M153.25,354.65 L158.15,359.55 M153.25,359.55 L158.15,354.65" stroke="#3288bd" stroke-width="1.35" fill="none"/>
<path d="M141.15,361.85 L146.05,366.75 M141.15,366.75 L146.05,361.85" stroke="#abdda4" stroke-width="1.35" fill="none"/>
<path d="M163.25,380.45 L168.15,385.35 M163.25,385.35 L168.15,380.45" stroke="#d53e4f" stroke-width="1.35" fill="none"/>
<path d="M163.45,380.25 L168.35,385.15 M163.45,385.15 L168.35,380.25" stroke="#abdda4" stroke-width="1.35" fill="none"/>
<path d="M174.65,380.45 L179.55,385.35 M174.65,385.35 L179.55,380.45" stroke="#3288bd" stroke-width="1.35" fill="none"/>
<path d="M188.25,380.45 L193.15,385.35 M188.25,385.35 L193.15,380.45" stroke="#fdae61" stroke-width="1.35" fill="none"/>
<path d="M173.25,386.85 L178.15,391.75 M173.25,391.75 L178.15,386.85" stroke="#d53e4f" stroke-width="1.35" fill="none"/>
<path d="M178.25,386.85 L183.15,391.75 M178.25,391.75 L183.15,386.85" stroke="#3288bd" stroke-width="1.35" fill="none"/>
<path d="M178.25,390.45 L183.15,395.35 M178.25,395.35 L183.15,390.45" stroke="#3288bd" stroke-width="1.35" fill="none"/>
<path d="M174.55,390.05 L179.45,394.95 M174.55,394.95 L179.45,390.05" stroke="#d53e4f" stroke-width="1.35" fill="none"/>
<path d="M176.15,393.05 L181.05,397.95 M176.15,397.95 L181.05,393.05" stroke="#3288bd" stroke-width="1.35" fill="none"/>
<path d="M170.45,393.95 L175.35,398.85 M170.45,398.85 L175.35,393.95" stroke="#d53e4f" stroke-width="1.35" fill="none"/>
<path d="M171.85,396.85 L176.75,401.75 M171.85,401.75 L176.75,396.85" stroke="#3288bd" stroke-width="1.35" fill="none"/>
<path d="M166.15,397.55 L171.05,402.45 M166.15,402.45 L171.05,397.55" stroke="#d53e4f" stroke-width="1.35" fill="none"/>
<path d="M167.55,398.95 L172.45,403.85 M167.55,403.85 L172.45,398.95" stroke="#3288bd" stroke-width="1.35" fill="none"/>
<path d="M163.25,400.45 L168.15,405.35 M163.25,405.35 L168.15,400.45" stroke="#d53e4f" stroke-width="1.35" fill="none"/>
<path d="M161.85,401.15 L166.75,406.05 M161.85,406.05 L166.75,401.15" stroke="#3288bd" stroke-width="1.35" fill="none"/>
<path d="M156.55,407.55 L161.45,412.45 M156.55,412.45 L161.45,407.55" stroke="#3288bd" stroke-width="1.35" fill="none"/>
<path d="M170.55,415.55 L175.45,420.45 M170.55,420.45 L175.45,415.55" stroke="#3288bd" stroke-width="1.35" fill="none"/>
<path d="M148.88,348.93 L153.78,353.83 M148.88,353.83 L153.78,348.93" stroke="#3288bd" stroke-width="1.35" fill="none"/>
<path d="M151.04,350.84 L155.94,355.74 M151.04,355.74 L155.94,350.84" stroke="#3288bd" stroke-width="1.35" fill="none"/>
<path d="M151.43,353.80 L156.33,358.70 M151.43,358.70 L156.33,353.80" stroke="#3288bd" stroke-width="1.35" fill="none"/>
<path d="M153.83,355.57 L158.73,360.47 M153.83,360.47 L158.73,355.57" stroke="#3288bd" stroke-width="1.35" fill="none"/>
<path d="M154.45,357.36 L159.35,362.26 M154.45,362.26 L159.35,357.36" stroke="#3288bd" stroke-width="1.35" fill="none"/>
<path d="M154.67,359.96 L159.57,364.86 M154.67,364.86 L159.57,359.96" stroke="#3288bd" stroke-width="1.35" fill="none"/>
<path d="M157.05,361.69 L161.95,366.59 M157.05,366.59 L161.95,361.69" stroke="#3288bd" stroke-width="1.35" fill="none"/>
<path d="M158.69,364.35 L163.59,369.25 M158.69,369.25 L163.59,364.35" stroke="#3288bd" stroke-width="1.35" fill="none"/>
<path d="M158.79,366.30 L163.69,371.20 M158.79,371.20 L163.69,366.30" stroke="#3288bd" stroke-width="1.35" fill="none"/>
<path d="M161.55,370.03 L166.45,374.93 M161.55,374.93 L166.45,370.03" stroke="#3288bd" stroke-width="1.35" fill="none"/>
<path d="M153.06,354.37 L157.96,359.27 M153.06,359.27 L157.96,354.37" stroke="#3288bd" stroke-width="1.35" fill="none"/>
<path d="M153.29,357.75 L158.19,362.65 M153.29,362.65 L158.19,357.75" stroke="#3288bd" stroke-width="1.35" fill="none"/>
<path d="M154.82,359.96 L159.72,364.86 M154.82,364.86 L159.72,359.96" stroke="#3288bd" stroke-width="1.35" fill="none"/>
<path d="M156.07,363.17 L160.97,368.07 M156.07,368.07 L160.97,363.17" stroke="#3288bd" stroke-width="1.35" fill="none"/>
<path d="M157.71,366.05 L162.61,370.95 M157.71,370.95 L162.61,366.05" stroke="#3288bd" stroke-width="1.35" fill="none"/>
<path d="M153.60,359.12 L158.50,364.02 M153.60,364.02 L158.50,359.12" stroke="#fdae61" stroke-width="1.35" fill="none"/>
<path d="M153.48,364.65 L158.38,369.55 M153.48,369.55 L158.38,364.65" stroke="#fdae61" stroke-width="1.35" fill="none"/>
<path d="M154.67,368.09 L159.57,372.99 M154.67,372.99 L159.57,368.09" stroke="#fdae61" stroke-width="1.35" fill="none"/>
<path d="M131.40,359.45 L136.30,364.35 M131.40,364.35 L136.30,359.45" stroke="#d53e4f" stroke-width="1.35" fill="none"/>
<path d="M132.75,359.72 L137.65,364.62 M132.75,364.62 L137.65,359.72" stroke="#d53e4f" stroke-width="1.35" fill="none"/>
<path d="M133.57,362.40 L138.47,367.30 M133.57,367.30 L138.47,362.40" stroke="#d53e4f" stroke-width="1.35" fill="none"/>
<path d="M134.86,363.81 L139.76,368.71 M134.86,368.71 L139.76,363.81" stroke="#d53e4f" stroke-width="1.35" fill="none"/>
<path d="M135.60,366.44 L140.50,371.34 M135.60,371.34 L140.50,366.44" stroke="#d53e4f" stroke-width="1.35" fill="none"/>
<path d="M137.08,368.46 L141.98,373.36 M137.08,373.36 L141.98,368.46" stroke="#d53e4f" stroke-width="1.35" fill="none"/>
<path d="M138.10,369.72 L143.00,374.62 M138.10,374.62 L143.00,369.72" stroke="#d53e4f" stroke-width="1.35" fill="none"/>
<path d="M174.65,406.85 L179.55,411.75 M174.65,411.75 L179.55,406.85" stroke="#fdae61" stroke-width="1.35" fill="none"/>
<path d="M178.25,404.65 L183.15,409.55 M178.25,409.55 L183.15,404.65" stroke="#fdae61" stroke-width="1.35" fill="none"/>
<path d="M181.85,403.25 L186.75,408.15 M181.85,408.15 L186.75,403.25" stroke="#fdae61" stroke-width="1.35" fill="none"/>
<path d="M185.45,401.85 L190.35,406.75 M185.45,406.75 L190.35,401.85" stroke="#fdae61" stroke-width="1.35" fill="none"/>
<path d="M188.95,400.45 L193.85,405.35 M188.95,405.35 L193.85,400.45" stroke="#fdae61" stroke-width="1.35" fill="none"/>
<path d="M192.55,398.25 L197.45,403.15 M192.55,403.15 L197.45,398.25" stroke="#fdae61" stroke-width="1.35" fill="none"/>
<path d="M195.45,395.45 L200.35,400.35 M195.45,400.35 L200.35,395.45" stroke="#fdae61" stroke-width="1.35" fill="none"/>
<path d="M198.25,392.55 L203.15,397.45 M198.25,397.45 L203.15,392.55" stroke="#fdae61" stroke-width="1.35" fill="none"/>
<path d="M198.95,389.65 L203.85,394.55 M198.95,394.55 L203.85,389.65" stroke="#fdae61" stroke-width="1.35" fill="none"/>
<path d="M197.55,386.85 L202.45,391.75 M197.55,391.75 L202.45,386.85" stroke="#fdae61" stroke-width="1.35" fill="none"/>
<path d="M171.45,417.15 L176.35,422.05 M171.45,422.05 L176.35,417.15" stroke="#3288bd" stroke-width="1.35" fill="none"/>
<path d="M170.85,417.75 L175.75,422.65 M170.85,422.65 L175.75,417.75" stroke="#abdda4" stroke-width="1.35" fill="none"/>
<path d="M173.65,419.65 L178.55,424.55 M173.65,424.55 L178.55,419.65" stroke="#3288bd" stroke-width="1.35" fill="none"/>
<path d="M173.05,420.25 L177.95,425.15 M173.05,425.15 L177.95,420.25" stroke="#abdda4" stroke-width="1.35" fill="none"/>
<path d="M176.15,422.35 L181.05,427.25 M176.15,427.25 L181.05,422.35" stroke="#3288bd" stroke-width="1.35" fill="none"/>
<path d="M175.55,422.95 L180.45,427.85 M175.55,427.85 L180.45,422.95" stroke="#abdda4" stroke-width="1.35" fill="none"/>
<path d="M178.65,425.05 L183.55,429.95 M178.65,429.95 L183.55,425.05" stroke="#3288bd" stroke-width="1.35" fill="none"/>
<path d="M178.05,425.65 L182.95,430.55 M178.05,430.55 L182.95,425.65" stroke="#abdda4" stroke-width="1.35" fill="none"/>
<path d="M181.15,427.85 L186.05,432.75 M181.15,432.75 L186.05,427.85" stroke="#3288bd" stroke-width="1.35" fill="none"/>
<path d="M180.55,428.45 L185.45,433.35 M180.55,433.35 L185.45,428.45" stroke="#abdda4" stroke-width="1.35" fill="none"/>
<path d="M183.65,430.65 L188.55,435.55 M183.65,435.55 L188.55,430.65" stroke="#3288bd" stroke-width="1.35" fill="none"/>
<path d="M183.05,431.25 L187.95,436.15 M183.05,436.15 L187.95,431.25" stroke="#abdda4" stroke-width="1.35" fill="none"/>
<path d="M186.15,433.35 L191.05,438.25 M186.15,438.25 L191.05,433.35" stroke="#3288bd" stroke-width="1.35" fill="none"/>
<path d="M185.55,433.95 L190.45,438.85 M185.55,438.85 L190.45,433.95" stroke="#abdda4" stroke-width="1.35" fill="none"/>
<path d="M188.65,436.15 L193.55,441.05 M188.65,441.05 L193.55,436.15" stroke="#3288bd" stroke-width="1.35" fill="none"/>
<path d="M188.05,436.75 L192.95,441.65 M188.05,441.65 L192.95,436.75" stroke="#abdda4" stroke-width="1.35" fill="none"/>
<path d="M190.75,438.65 L195.65,443.55 M190.75,443.55 L195.65,438.65" stroke="#3288bd" stroke-width="1.35" fill="none"/>
<path d="M190.15,439.25 L195.05,444.15 M190.15,444.15 L195.05,439.25" stroke="#abdda4" stroke-width="1.35" fill="none"/>
<path d="M192.85,441.45 L197.75,446.35 M192.85,446.35 L197.75,441.45" stroke="#3288bd" stroke-width="1.35" fill="none"/>
<path d="M192.25,442.05 L197.15,446.95 M192.25,446.95 L197.15,442.05" stroke="#abdda4" stroke-width="1.35" fill="none"/>
<path d="M194.15,443.85 L199.05,448.75 M194.15,448.75 L199.05,443.85" stroke="#3288bd" stroke-width="1.35" fill="none"/>
<path d="M193.55,444.45 L198.45,449.35 M193.55,449.35 L198.45,444.45" stroke="#abdda4" stroke-width="1.35" fill="none"/>
<path d="M201.85,453.95 L206.75,458.85 M201.85,458.85 L206.75,453.95" stroke="#abdda4" stroke-width="1.35" fill="none"/>
<path d="M203.95,455.45 L208.85,460.35 M203.95,460.35 L208.85,455.45" stroke="#abdda4" stroke-width="1.35" fill="none"/>
<path d="M208.95,459.65 L213.85,464.55 M208.95,464.55 L213.85,459.65" stroke="#abdda4" stroke-width="1.35" fill="none"/>
<path d="M211.15,460.45 L216.05,465.35 M211.15,465.35 L216.05,460.45" stroke="#abdda4" stroke-width="1.35" fill="none"/>
<path d="M215.45,464.65 L220.35,469.55 M215.45,469.55 L220.35,464.65" stroke="#abdda4" stroke-width="1.35" fill="none"/>
<path d="M219.65,467.55 L224.55,472.45 M219.65,472.45 L224.55,467.55" stroke="#abdda4" stroke-width="1.35" fill="none"/>
<path d="M221.15,470.45 L226.05,475.35 M221.15,475.35 L226.05,470.45" stroke="#abdda4" stroke-width="1.35" fill="none"/>
<path d="M222.55,473.25 L227.45,478.15 M222.55,478.15 L227.45,473.25" stroke="#abdda4" stroke-width="1.35" fill="none"/>
<path d="M225.45,476.15 L230.35,481.05 M225.45,481.05 L230.35,476.15" stroke="#abdda4" stroke-width="1.35" fill="none"/>
<path d="M228.25,478.95 L233.15,483.85 M228.25,483.85 L233.15,478.95" stroke="#abdda4" stroke-width="1.35" fill="none"/>
<path d="M251.15,491.85 L256.05,496.75 M251.15,496.75 L256.05,491.85" stroke="#abdda4" stroke-width="1.35" fill="none"/>
<path d="M256.85,497.55 L261.75,502.45 M256.85,502.45 L261.75,497.55" stroke="#abdda4" stroke-width="1.35" fill="none"/>
<path d="M255.45,503.25 L260.35,508.15 M255.45,508.15 L260.35,503.25" stroke="#abdda4" stroke-width="1.35" fill="none"/>
<path d="M262.55,506.15 L267.45,511.05 M262.55,511.05 L267.45,506.15" stroke="#abdda4" stroke-width="1.35" fill="none"/>
<path d="M268.25,508.95 L273.15,513.85 M268.25,513.85 L273.15,508.95" stroke="#abdda4" stroke-width="1.35" fill="none"/>
<path d="M272.55,511.85 L277.45,516.75 M272.55,516.75 L277.45,511.85" stroke="#abdda4" stroke-width="1.35" fill="none"/>
<path d="M276.85,513.25 L281.75,518.15 M276.85,518.15 L281.75,513.25" stroke="#abdda4" stroke-width="1.35" fill="none"/>
<path d="M281.15,514.65 L286.05,519.55 M281.15,519.55 L286.05,514.65" stroke="#abdda4" stroke-width="1.35" fill="none"/>
<path d="M150.50,290.00 C150.55,295.00 150.57,311.67 150.80,320.00 C151.03,328.33 151.43,333.10 151.90,340.00 C152.37,346.90 153.03,355.78 153.60,361.40 C154.17,367.02 154.83,370.12 155.30,373.70 C155.77,377.28 156.02,380.43 156.40,382.90 C156.78,385.37 157.25,386.32 157.60,388.50 C157.95,390.68 158.35,394.75 158.50,396.00" fill="none" stroke="#abdda4" stroke-width="1.4" stroke-dasharray="4.7 2.0" stroke-dashoffset="2.98" stroke-linecap="butt" stroke-linejoin="round"/>
<path d="M149.00,290.00 C149.00,298.33 149.07,329.28 149.00,340.00 C148.93,350.72 148.92,349.07 148.60,354.30 C148.28,359.53 147.48,366.27 147.10,371.40 C146.72,376.53 146.32,382.00 146.30,385.10 C146.28,388.20 146.88,389.18 147.00,390.00" fill="none" stroke="#d53e4f" stroke-width="1.4" stroke-dasharray="4.7 2.0" stroke-dashoffset="0.00" stroke-linecap="butt" stroke-linejoin="round"/>
<path d="M149.10,290.00 C149.10,296.67 149.07,321.67 149.10,330.00 C149.13,338.33 149.15,333.57 149.30,340.00 C149.45,346.43 149.77,360.98 150.00,368.60 C150.23,376.22 150.43,381.97 150.70,385.70 C150.97,389.43 151.13,389.28 151.60,391.00 C152.07,392.72 153.18,395.17 153.50,396.00" fill="none" stroke="#fdae61" stroke-width="1.4" stroke-dasharray="4.7 2.0" stroke-dashoffset="4.80" stroke-linecap="butt" stroke-linejoin="round"/>
<path d="M149.20,290.00 C149.20,296.67 149.07,320.83 149.20,330.00 C149.33,339.17 149.63,338.57 150.00,345.00 C150.37,351.43 150.80,361.33 151.40,368.60 C152.00,375.87 153.00,384.20 153.60,388.60 C154.20,393.00 154.77,393.93 155.00,395.00" fill="none" stroke="#3288bd" stroke-width="1.4" stroke-dasharray="4.7 2.0" stroke-dashoffset="1.80" stroke-linecap="butt" stroke-linejoin="round"/>
<path d="M130.60,348.00 C130.72,349.17 130.87,352.75 131.30,355.00 C131.73,357.25 132.52,359.42 133.20,361.50 C133.88,363.58 134.63,365.50 135.40,367.50 C136.17,369.50 136.95,371.50 137.80,373.50 C138.65,375.50 139.32,377.00 140.50,379.50 C141.68,382.00 143.27,385.67 144.85,388.50 C146.43,391.33 147.94,393.58 150.00,396.50 C152.06,399.42 154.68,402.75 157.20,406.00 C159.72,409.25 162.32,412.33 165.10,416.00 C167.88,419.67 170.80,424.25 173.90,428.00 C177.00,431.75 179.78,434.42 183.70,438.50 C187.62,442.58 193.38,448.67 197.40,452.50 C201.43,456.33 204.32,458.45 207.85,461.50 C211.38,464.55 216.81,469.25 218.60,470.80" fill="none" stroke="#d53e4f" stroke-width="1.4" stroke-linecap="butt" stroke-linejoin="round"/>
<path d="M130.70,350.00 C130.85,351.17 131.12,354.75 131.60,357.00 C132.08,359.25 132.87,361.42 133.60,363.50 C134.33,365.58 135.15,367.55 136.00,369.50 C136.85,371.45 137.82,373.37 138.70,375.20 C139.58,377.03 140.04,378.28 141.30,380.50 C142.56,382.72 144.50,385.83 146.28,388.50 C148.07,391.17 149.87,393.58 152.00,396.50 C154.13,399.42 156.64,402.75 159.07,406.00 C161.49,409.25 163.92,412.33 166.57,416.00 C169.22,419.67 171.97,424.25 174.97,428.00 C177.97,431.75 180.76,434.42 184.57,438.50 C188.37,442.58 193.90,448.67 197.80,452.50 C201.70,456.33 204.48,458.45 207.95,461.50 C211.42,464.55 216.82,469.25 218.60,470.80" fill="none" stroke="#fdae61" stroke-width="1.4" stroke-linecap="butt" stroke-linejoin="round"/>
<path d="M130.80,352.00 C130.98,353.17 131.37,356.75 131.90,359.00 C132.43,361.25 133.22,363.50 134.00,365.50 C134.78,367.50 135.72,369.22 136.60,371.00 C137.48,372.78 138.43,374.53 139.30,376.20 C140.17,377.87 140.40,378.95 141.80,381.00 C143.20,383.05 145.68,385.92 147.72,388.50 C149.75,391.08 151.80,393.58 154.00,396.50 C156.20,399.42 158.59,402.75 160.93,406.00 C163.27,409.25 165.52,412.33 168.03,416.00 C170.55,419.67 173.13,424.25 176.03,428.00 C178.93,431.75 181.74,434.42 185.43,438.50 C189.13,442.58 194.43,448.67 198.20,452.50 C201.97,456.33 204.65,458.45 208.05,461.50 C211.45,464.55 216.84,469.25 218.60,470.80" fill="none" stroke="#3288bd" stroke-width="1.4" stroke-linecap="butt" stroke-linejoin="round"/>
<path d="M133.80,290.00 C133.75,293.33 133.63,304.67 133.50,310.00 C133.37,315.33 133.25,318.33 133.00,322.00 C132.75,325.67 132.37,328.67 132.00,332.00 C131.63,335.33 131.07,339.00 130.80,342.00 C130.53,345.00 130.40,347.50 130.40,350.00 C130.40,352.50 130.50,354.75 130.80,357.00 C131.10,359.25 131.58,361.42 132.20,363.50 C132.82,365.58 133.62,367.50 134.50,369.50 C135.38,371.50 136.33,373.50 137.50,375.50 C138.67,377.50 139.56,379.33 141.50,381.50 C143.44,383.67 146.73,386.00 149.15,388.50 C151.57,391.00 153.72,393.58 156.00,396.50 C158.28,399.42 160.55,402.75 162.80,406.00 C165.05,409.25 167.12,412.33 169.50,416.00 C171.88,419.67 174.30,424.25 177.10,428.00 C179.90,431.75 182.72,434.42 186.30,438.50 C189.88,442.58 194.96,448.67 198.60,452.50 C202.24,456.33 204.82,458.45 208.15,461.50 C211.48,464.55 214.29,466.97 218.60,470.80 C222.91,474.63 229.15,480.38 234.00,484.50 C238.85,488.62 244.03,492.50 247.70,495.50 C251.37,498.50 250.90,498.27 256.00,502.50 C261.10,506.73 274.38,517.60 278.30,520.85 C282.22,524.10 279.30,521.81 279.50,522.00" fill="none" stroke="#abdda4" stroke-width="1.4" stroke-linecap="butt" stroke-linejoin="round"/>
<path d="M144.00,385.00 C145.01,385.42 147.90,385.75 150.05,387.50 C152.20,389.25 154.62,392.58 156.90,395.50 C159.18,398.42 161.45,401.75 163.70,405.00 C165.95,408.25 168.02,411.33 170.40,415.00 C172.78,418.67 175.20,423.25 178.00,427.00 C180.80,430.75 183.62,433.42 187.20,437.50 C190.78,441.58 195.86,447.67 199.50,451.50 C203.14,455.33 205.72,457.45 209.05,460.50 C212.38,463.55 215.19,465.97 219.50,469.80 C223.81,473.63 230.05,479.38 234.90,483.50 C239.75,487.62 244.93,491.50 248.60,494.50 C252.27,497.50 255.52,500.33 256.90,501.50" fill="none" stroke="#878787" stroke-width="1.25" stroke-dasharray="1.3 2.1" stroke-dashoffset="0.00" stroke-linecap="butt" stroke-linejoin="round"/>
</g>
<line x1="35.85" y1="13.40" x2="39.45" y2="13.40" stroke="#000" stroke-width="0.85"/>
<line x1="37.45" y1="24.61" x2="39.45" y2="24.61" stroke="#000" stroke-width="0.65"/>
<line x1="37.45" y1="31.17" x2="39.45" y2="31.17" stroke="#000" stroke-width="0.65"/>
<line x1="37.45" y1="35.82" x2="39.45" y2="35.82" stroke="#000" stroke-width="0.65"/>
<line x1="37.45" y1="39.43" x2="39.45" y2="39.43" stroke="#000" stroke-width="0.65"/>
<line x1="37.45" y1="42.38" x2="39.45" y2="42.38" stroke="#000" stroke-width="0.65"/>
<line x1="37.45" y1="44.87" x2="39.45" y2="44.87" stroke="#000" stroke-width="0.65"/>
<line x1="37.45" y1="47.03" x2="39.45" y2="47.03" stroke="#000" stroke-width="0.65"/>
<line x1="37.45" y1="48.94" x2="39.45" y2="48.94" stroke="#000" stroke-width="0.65"/>


<line x1="35.85" y1="50.64" x2="39.45" y2="50.64" stroke="#000" stroke-width="0.85"/>
<line x1="37.45" y1="61.85" x2="39.45" y2="61.85" stroke="#000" stroke-width="0.65"/>
<line x1="37.45" y1="68.41" x2="39.45" y2="68.41" stroke="#000" stroke-width="0.65"/>
<line x1="37.45" y1="73.06" x2="39.45" y2="73.06" stroke="#000" stroke-width="0.65"/>
<line x1="37.45" y1="76.67" x2="39.45" y2="76.67" stroke="#000" stroke-width="0.65"/>
<line x1="37.45" y1="79.62" x2="39.45" y2="79.62" stroke="#000" stroke-width="0.65"/>
<line x1="37.45" y1="82.11" x2="39.45" y2="82.11" stroke="#000" stroke-width="0.65"/>
<line x1="37.45" y1="84.27" x2="39.45" y2="84.27" stroke="#000" stroke-width="0.65"/>
<line x1="37.45" y1="86.18" x2="39.45" y2="86.18" stroke="#000" stroke-width="0.65"/>


<line x1="35.85" y1="87.88" x2="39.45" y2="87.88" stroke="#000" stroke-width="0.85"/>
<line x1="37.45" y1="99.09" x2="39.45" y2="99.09" stroke="#000" stroke-width="0.65"/>
<line x1="37.45" y1="105.65" x2="39.45" y2="105.65" stroke="#000" stroke-width="0.65"/>
<line x1="37.45" y1="110.31" x2="39.45" y2="110.31" stroke="#000" stroke-width="0.65"/>
<line x1="37.45" y1="113.91" x2="39.45" y2="113.91" stroke="#000" stroke-width="0.65"/>
<line x1="37.45" y1="116.86" x2="39.45" y2="116.86" stroke="#000" stroke-width="0.65"/>
<line x1="37.45" y1="119.36" x2="39.45" y2="119.36" stroke="#000" stroke-width="0.65"/>
<line x1="37.45" y1="121.52" x2="39.45" y2="121.52" stroke="#000" stroke-width="0.65"/>
<line x1="37.45" y1="123.42" x2="39.45" y2="123.42" stroke="#000" stroke-width="0.65"/>


<line x1="35.85" y1="125.12" x2="39.45" y2="125.12" stroke="#000" stroke-width="0.85"/>
<line x1="37.45" y1="136.34" x2="39.45" y2="136.34" stroke="#000" stroke-width="0.65"/>
<line x1="37.45" y1="142.89" x2="39.45" y2="142.89" stroke="#000" stroke-width="0.65"/>
<line x1="37.45" y1="147.55" x2="39.45" y2="147.55" stroke="#000" stroke-width="0.65"/>
<line x1="37.45" y1="151.16" x2="39.45" y2="151.16" stroke="#000" stroke-width="0.65"/>
<line x1="37.45" y1="154.10" x2="39.45" y2="154.10" stroke="#000" stroke-width="0.65"/>
<line x1="37.45" y1="156.60" x2="39.45" y2="156.60" stroke="#000" stroke-width="0.65"/>
<line x1="37.45" y1="158.76" x2="39.45" y2="158.76" stroke="#000" stroke-width="0.65"/>
<line x1="37.45" y1="160.66" x2="39.45" y2="160.66" stroke="#000" stroke-width="0.65"/>


<line x1="35.85" y1="162.37" x2="39.45" y2="162.37" stroke="#000" stroke-width="0.85"/>
<line x1="37.45" y1="173.58" x2="39.45" y2="173.58" stroke="#000" stroke-width="0.65"/>
<line x1="37.45" y1="180.14" x2="39.45" y2="180.14" stroke="#000" stroke-width="0.65"/>
<line x1="37.45" y1="184.79" x2="39.45" y2="184.79" stroke="#000" stroke-width="0.65"/>
<line x1="37.45" y1="188.40" x2="39.45" y2="188.40" stroke="#000" stroke-width="0.65"/>
<line x1="37.45" y1="191.35" x2="39.45" y2="191.35" stroke="#000" stroke-width="0.65"/>
<line x1="37.45" y1="193.84" x2="39.45" y2="193.84" stroke="#000" stroke-width="0.65"/>
<line x1="37.45" y1="196.00" x2="39.45" y2="196.00" stroke="#000" stroke-width="0.65"/>
<line x1="37.45" y1="197.90" x2="39.45" y2="197.90" stroke="#000" stroke-width="0.65"/>


<line x1="35.85" y1="199.61" x2="39.45" y2="199.61" stroke="#000" stroke-width="0.85"/>
<line x1="37.45" y1="210.82" x2="39.45" y2="210.82" stroke="#000" stroke-width="0.65"/>
<line x1="37.45" y1="217.38" x2="39.45" y2="217.38" stroke="#000" stroke-width="0.65"/>
<line x1="37.45" y1="222.03" x2="39.45" y2="222.03" stroke="#000" stroke-width="0.65"/>
<line x1="37.45" y1="225.64" x2="39.45" y2="225.64" stroke="#000" stroke-width="0.65"/>
<line x1="37.45" y1="228.59" x2="39.45" y2="228.59" stroke="#000" stroke-width="0.65"/>
<line x1="37.45" y1="231.08" x2="39.45" y2="231.08" stroke="#000" stroke-width="0.65"/>
<line x1="37.45" y1="233.24" x2="39.45" y2="233.24" stroke="#000" stroke-width="0.65"/>
<line x1="37.45" y1="235.15" x2="39.45" y2="235.15" stroke="#000" stroke-width="0.65"/>


<line x1="35.85" y1="236.85" x2="39.45" y2="236.85" stroke="#000" stroke-width="0.85"/>


<line x1="39.45" y1="236.85" x2="39.45" y2="240.05" stroke="#000" stroke-width="0.85"/>


<line x1="99.36" y1="236.85" x2="99.36" y2="240.05" stroke="#000" stroke-width="0.85"/>


<line x1="159.27" y1="236.85" x2="159.27" y2="240.05" stroke="#000" stroke-width="0.85"/>


<line x1="219.18" y1="236.85" x2="219.18" y2="240.05" stroke="#000" stroke-width="0.85"/>


<line x1="279.09" y1="236.85" x2="279.09" y2="240.05" stroke="#000" stroke-width="0.85"/>


<line x1="339.00" y1="236.85" x2="339.00" y2="240.05" stroke="#000" stroke-width="0.85"/>


<rect x="39.45" y="13.40" width="299.55" height="223.45" fill="none" stroke="#000" stroke-width="0.95"/>


<line x1="35.85" y1="297.50" x2="39.45" y2="297.50" stroke="#000" stroke-width="0.85"/>
<line x1="37.45" y1="308.71" x2="39.45" y2="308.71" stroke="#000" stroke-width="0.65"/>
<line x1="37.45" y1="315.27" x2="39.45" y2="315.27" stroke="#000" stroke-width="0.65"/>
<line x1="37.45" y1="319.92" x2="39.45" y2="319.92" stroke="#000" stroke-width="0.65"/>
<line x1="37.45" y1="323.53" x2="39.45" y2="323.53" stroke="#000" stroke-width="0.65"/>
<line x1="37.45" y1="326.48" x2="39.45" y2="326.48" stroke="#000" stroke-width="0.65"/>
<line x1="37.45" y1="328.97" x2="39.45" y2="328.97" stroke="#000" stroke-width="0.65"/>
<line x1="37.45" y1="331.13" x2="39.45" y2="331.13" stroke="#000" stroke-width="0.65"/>
<line x1="37.45" y1="333.04" x2="39.45" y2="333.04" stroke="#000" stroke-width="0.65"/>


<line x1="35.85" y1="334.74" x2="39.45" y2="334.74" stroke="#000" stroke-width="0.85"/>
<line x1="37.45" y1="345.95" x2="39.45" y2="345.95" stroke="#000" stroke-width="0.65"/>
<line x1="37.45" y1="352.51" x2="39.45" y2="352.51" stroke="#000" stroke-width="0.65"/>
<line x1="37.45" y1="357.16" x2="39.45" y2="357.16" stroke="#000" stroke-width="0.65"/>
<line x1="37.45" y1="360.77" x2="39.45" y2="360.77" stroke="#000" stroke-width="0.65"/>
<line x1="37.45" y1="363.72" x2="39.45" y2="363.72" stroke="#000" stroke-width="0.65"/>
<line x1="37.45" y1="366.21" x2="39.45" y2="366.21" stroke="#000" stroke-width="0.65"/>
<line x1="37.45" y1="368.37" x2="39.45" y2="368.37" stroke="#000" stroke-width="0.65"/>
<line x1="37.45" y1="370.28" x2="39.45" y2="370.28" stroke="#000" stroke-width="0.65"/>


<line x1="35.85" y1="371.98" x2="39.45" y2="371.98" stroke="#000" stroke-width="0.85"/>
<line x1="37.45" y1="383.19" x2="39.45" y2="383.19" stroke="#000" stroke-width="0.65"/>
<line x1="37.45" y1="389.75" x2="39.45" y2="389.75" stroke="#000" stroke-width="0.65"/>
<line x1="37.45" y1="394.41" x2="39.45" y2="394.41" stroke="#000" stroke-width="0.65"/>
<line x1="37.45" y1="398.01" x2="39.45" y2="398.01" stroke="#000" stroke-width="0.65"/>
<line x1="37.45" y1="400.96" x2="39.45" y2="400.96" stroke="#000" stroke-width="0.65"/>
<line x1="37.45" y1="403.46" x2="39.45" y2="403.46" stroke="#000" stroke-width="0.65"/>
<line x1="37.45" y1="405.62" x2="39.45" y2="405.62" stroke="#000" stroke-width="0.65"/>
<line x1="37.45" y1="407.52" x2="39.45" y2="407.52" stroke="#000" stroke-width="0.65"/>


<line x1="35.85" y1="409.23" x2="39.45" y2="409.23" stroke="#000" stroke-width="0.85"/>
<line x1="37.45" y1="420.44" x2="39.45" y2="420.44" stroke="#000" stroke-width="0.65"/>
<line x1="37.45" y1="426.99" x2="39.45" y2="426.99" stroke="#000" stroke-width="0.65"/>
<line x1="37.45" y1="431.65" x2="39.45" y2="431.65" stroke="#000" stroke-width="0.65"/>
<line x1="37.45" y1="435.26" x2="39.45" y2="435.26" stroke="#000" stroke-width="0.65"/>
<line x1="37.45" y1="438.20" x2="39.45" y2="438.20" stroke="#000" stroke-width="0.65"/>
<line x1="37.45" y1="440.70" x2="39.45" y2="440.70" stroke="#000" stroke-width="0.65"/>
<line x1="37.45" y1="442.86" x2="39.45" y2="442.86" stroke="#000" stroke-width="0.65"/>
<line x1="37.45" y1="444.76" x2="39.45" y2="444.76" stroke="#000" stroke-width="0.65"/>


<line x1="35.85" y1="446.47" x2="39.45" y2="446.47" stroke="#000" stroke-width="0.85"/>
<line x1="37.45" y1="457.68" x2="39.45" y2="457.68" stroke="#000" stroke-width="0.65"/>
<line x1="37.45" y1="464.24" x2="39.45" y2="464.24" stroke="#000" stroke-width="0.65"/>
<line x1="37.45" y1="468.89" x2="39.45" y2="468.89" stroke="#000" stroke-width="0.65"/>
<line x1="37.45" y1="472.50" x2="39.45" y2="472.50" stroke="#000" stroke-width="0.65"/>
<line x1="37.45" y1="475.45" x2="39.45" y2="475.45" stroke="#000" stroke-width="0.65"/>
<line x1="37.45" y1="477.94" x2="39.45" y2="477.94" stroke="#000" stroke-width="0.65"/>
<line x1="37.45" y1="480.10" x2="39.45" y2="480.10" stroke="#000" stroke-width="0.65"/>
<line x1="37.45" y1="482.00" x2="39.45" y2="482.00" stroke="#000" stroke-width="0.65"/>


<line x1="35.85" y1="483.71" x2="39.45" y2="483.71" stroke="#000" stroke-width="0.85"/>
<line x1="37.45" y1="494.92" x2="39.45" y2="494.92" stroke="#000" stroke-width="0.65"/>
<line x1="37.45" y1="501.48" x2="39.45" y2="501.48" stroke="#000" stroke-width="0.65"/>
<line x1="37.45" y1="506.13" x2="39.45" y2="506.13" stroke="#000" stroke-width="0.65"/>
<line x1="37.45" y1="509.74" x2="39.45" y2="509.74" stroke="#000" stroke-width="0.65"/>
<line x1="37.45" y1="512.69" x2="39.45" y2="512.69" stroke="#000" stroke-width="0.65"/>
<line x1="37.45" y1="515.18" x2="39.45" y2="515.18" stroke="#000" stroke-width="0.65"/>
<line x1="37.45" y1="517.34" x2="39.45" y2="517.34" stroke="#000" stroke-width="0.65"/>
<line x1="37.45" y1="519.25" x2="39.45" y2="519.25" stroke="#000" stroke-width="0.65"/>


<line x1="35.85" y1="520.95" x2="39.45" y2="520.95" stroke="#000" stroke-width="0.85"/>


<line x1="39.45" y1="520.95" x2="39.45" y2="524.15" stroke="#000" stroke-width="0.85"/>


<line x1="99.36" y1="520.95" x2="99.36" y2="524.15" stroke="#000" stroke-width="0.85"/>


<line x1="159.27" y1="520.95" x2="159.27" y2="524.15" stroke="#000" stroke-width="0.85"/>


<line x1="219.18" y1="520.95" x2="219.18" y2="524.15" stroke="#000" stroke-width="0.85"/>


<line x1="279.09" y1="520.95" x2="279.09" y2="524.15" stroke="#000" stroke-width="0.85"/>


<line x1="339.00" y1="520.95" x2="339.00" y2="524.15" stroke="#000" stroke-width="0.85"/>


<rect x="39.45" y="297.50" width="299.55" height="223.45" fill="none" stroke="#000" stroke-width="0.95"/>


<line x1="47.8" y1="177.90" x2="69.1" y2="177.90" stroke="#d53e4f" stroke-width="1.6"/>

<line x1="47.8" y1="192.60" x2="69.1" y2="192.60" stroke="#fdae61" stroke-width="1.6"/>

<line x1="47.8" y1="207.30" x2="69.1" y2="207.30" stroke="#3288bd" stroke-width="1.6"/>

<line x1="47.8" y1="222.00" x2="69.1" y2="222.00" stroke="#abdda4" stroke-width="1.6"/>

<line x1="47.8" y1="462.00" x2="69.1" y2="462.00" stroke="#d53e4f" stroke-width="1.6"/>

<line x1="47.8" y1="476.70" x2="69.1" y2="476.70" stroke="#fdae61" stroke-width="1.6"/>

<line x1="47.8" y1="491.40" x2="69.1" y2="491.40" stroke="#3288bd" stroke-width="1.6"/>

<line x1="47.8" y1="506.10" x2="69.1" y2="506.10" stroke="#abdda4" stroke-width="1.6"/>







</g>
<g filter="url(#tb)">
<text x="13.58" y="16.70" font-size="9.2" textLength="10.56" lengthAdjust="spacingAndGlyphs" fill="#000" class="tk">10</text>
<text x="24.44" y="14.00" font-size="5.9" textLength="8.56" lengthAdjust="spacingAndGlyphs" fill="#000" class="tk">−4</text>
<text x="13.58" y="53.94" font-size="9.2" textLength="10.56" lengthAdjust="spacingAndGlyphs" fill="#000" class="tk">10</text>
<text x="24.44" y="51.24" font-size="5.9" textLength="8.56" lengthAdjust="spacingAndGlyphs" fill="#000" class="tk">−3</text>
<text x="13.58" y="91.18" font-size="9.2" textLength="10.56" lengthAdjust="spacingAndGlyphs" fill="#000" class="tk">10</text>
<text x="24.44" y="88.48" font-size="5.9" textLength="8.56" lengthAdjust="spacingAndGlyphs" fill="#000" class="tk">−2</text>
<text x="13.58" y="128.43" font-size="9.2" textLength="10.56" lengthAdjust="spacingAndGlyphs" fill="#000" class="tk">10</text>
<text x="24.44" y="125.73" font-size="5.9" textLength="8.56" lengthAdjust="spacingAndGlyphs" fill="#000" class="tk">−1</text>
<text x="18.45" y="165.67" font-size="9.2" textLength="10.56" lengthAdjust="spacingAndGlyphs" fill="#000" class="tk">10</text>
<text x="29.30" y="162.97" font-size="5.9" textLength="3.70" lengthAdjust="spacingAndGlyphs" fill="#000" class="tk">0</text>
<text x="18.45" y="202.91" font-size="9.2" textLength="10.56" lengthAdjust="spacingAndGlyphs" fill="#000" class="tk">10</text>
<text x="29.30" y="200.21" font-size="5.9" textLength="3.70" lengthAdjust="spacingAndGlyphs" fill="#000" class="tk">1</text>
<text x="18.45" y="240.15" font-size="9.2" textLength="10.56" lengthAdjust="spacingAndGlyphs" fill="#000" class="tk">10</text>
<text x="29.30" y="237.45" font-size="5.9" textLength="3.70" lengthAdjust="spacingAndGlyphs" fill="#000" class="tk">2</text>
<text x="27.89" y="249.45" font-size="9.2" textLength="10.56" lengthAdjust="spacingAndGlyphs" fill="#000" class="tk">10</text>
<text x="38.75" y="246.75" font-size="5.9" textLength="12.26" lengthAdjust="spacingAndGlyphs" fill="#000" class="tk">−12</text>
<text x="87.80" y="249.45" font-size="9.2" textLength="10.56" lengthAdjust="spacingAndGlyphs" fill="#000" class="tk">10</text>
<text x="98.66" y="246.75" font-size="5.9" textLength="12.26" lengthAdjust="spacingAndGlyphs" fill="#000" class="tk">−10</text>
<text x="149.56" y="249.45" font-size="9.2" textLength="10.56" lengthAdjust="spacingAndGlyphs" fill="#000" class="tk">10</text>
<text x="160.42" y="246.75" font-size="5.9" textLength="8.56" lengthAdjust="spacingAndGlyphs" fill="#000" class="tk">−8</text>
<text x="209.47" y="249.45" font-size="9.2" textLength="10.56" lengthAdjust="spacingAndGlyphs" fill="#000" class="tk">10</text>
<text x="220.33" y="246.75" font-size="5.9" textLength="8.56" lengthAdjust="spacingAndGlyphs" fill="#000" class="tk">−6</text>
<text x="269.38" y="249.45" font-size="9.2" textLength="10.56" lengthAdjust="spacingAndGlyphs" fill="#000" class="tk">10</text>
<text x="280.24" y="246.75" font-size="5.9" textLength="8.56" lengthAdjust="spacingAndGlyphs" fill="#000" class="tk">−4</text>
<text x="329.29" y="249.45" font-size="9.2" textLength="10.56" lengthAdjust="spacingAndGlyphs" fill="#000" class="tk">10</text>
<text x="340.15" y="246.75" font-size="5.9" textLength="8.56" lengthAdjust="spacingAndGlyphs" fill="#000" class="tk">−2</text>
<text x="158.20" y="263.15" font-size="10.0" textLength="61.64" lengthAdjust="spacingAndGlyphs" fill="#000" >Mixing Ratio</text>
<g transform="translate(8.2,125.22) rotate(-90)"><text x="-35.13" y="0.00" font-size="10.0" textLength="70.27" lengthAdjust="spacingAndGlyphs" fill="#000" >Pressure (bar)</text></g>
<text x="13.58" y="300.80" font-size="9.2" textLength="10.56" lengthAdjust="spacingAndGlyphs" fill="#000" class="tk">10</text>
<text x="24.44" y="298.10" font-size="5.9" textLength="8.56" lengthAdjust="spacingAndGlyphs" fill="#000" class="tk">−4</text>
<text x="13.58" y="338.04" font-size="9.2" textLength="10.56" lengthAdjust="spacingAndGlyphs" fill="#000" class="tk">10</text>
<text x="24.44" y="335.34" font-size="5.9" textLength="8.56" lengthAdjust="spacingAndGlyphs" fill="#000" class="tk">−3</text>
<text x="13.58" y="375.28" font-size="9.2" textLength="10.56" lengthAdjust="spacingAndGlyphs" fill="#000" class="tk">10</text>
<text x="24.44" y="372.58" font-size="5.9" textLength="8.56" lengthAdjust="spacingAndGlyphs" fill="#000" class="tk">−2</text>
<text x="13.58" y="412.53" font-size="9.2" textLength="10.56" lengthAdjust="spacingAndGlyphs" fill="#000" class="tk">10</text>
<text x="24.44" y="409.83" font-size="5.9" textLength="8.56" lengthAdjust="spacingAndGlyphs" fill="#000" class="tk">−1</text>
<text x="18.45" y="449.77" font-size="9.2" textLength="10.56" lengthAdjust="spacingAndGlyphs" fill="#000" class="tk">10</text>
<text x="29.30" y="447.07" font-size="5.9" textLength="3.70" lengthAdjust="spacingAndGlyphs" fill="#000" class="tk">0</text>
<text x="18.45" y="487.01" font-size="9.2" textLength="10.56" lengthAdjust="spacingAndGlyphs" fill="#000" class="tk">10</text>
<text x="29.30" y="484.31" font-size="5.9" textLength="3.70" lengthAdjust="spacingAndGlyphs" fill="#000" class="tk">1</text>
<text x="18.45" y="524.25" font-size="9.2" textLength="10.56" lengthAdjust="spacingAndGlyphs" fill="#000" class="tk">10</text>
<text x="29.30" y="521.55" font-size="5.9" textLength="3.70" lengthAdjust="spacingAndGlyphs" fill="#000" class="tk">2</text>
<text x="27.89" y="533.55" font-size="9.2" textLength="10.56" lengthAdjust="spacingAndGlyphs" fill="#000" class="tk">10</text>
<text x="38.75" y="530.85" font-size="5.9" textLength="12.26" lengthAdjust="spacingAndGlyphs" fill="#000" class="tk">−12</text>
<text x="87.80" y="533.55" font-size="9.2" textLength="10.56" lengthAdjust="spacingAndGlyphs" fill="#000" class="tk">10</text>
<text x="98.66" y="530.85" font-size="5.9" textLength="12.26" lengthAdjust="spacingAndGlyphs" fill="#000" class="tk">−10</text>
<text x="149.56" y="533.55" font-size="9.2" textLength="10.56" lengthAdjust="spacingAndGlyphs" fill="#000" class="tk">10</text>
<text x="160.42" y="530.85" font-size="5.9" textLength="8.56" lengthAdjust="spacingAndGlyphs" fill="#000" class="tk">−8</text>
<text x="209.47" y="533.55" font-size="9.2" textLength="10.56" lengthAdjust="spacingAndGlyphs" fill="#000" class="tk">10</text>
<text x="220.33" y="530.85" font-size="5.9" textLength="8.56" lengthAdjust="spacingAndGlyphs" fill="#000" class="tk">−6</text>
<text x="269.38" y="533.55" font-size="9.2" textLength="10.56" lengthAdjust="spacingAndGlyphs" fill="#000" class="tk">10</text>
<text x="280.24" y="530.85" font-size="5.9" textLength="8.56" lengthAdjust="spacingAndGlyphs" fill="#000" class="tk">−4</text>
<text x="329.29" y="533.55" font-size="9.2" textLength="10.56" lengthAdjust="spacingAndGlyphs" fill="#000" class="tk">10</text>
<text x="340.15" y="530.85" font-size="5.9" textLength="8.56" lengthAdjust="spacingAndGlyphs" fill="#000" class="tk">−2</text>
<text x="158.20" y="547.25" font-size="10.0" textLength="61.64" lengthAdjust="spacingAndGlyphs" fill="#000" >Mixing Ratio</text>
<g transform="translate(8.2,409.33) rotate(-90)"><text x="-35.13" y="0.00" font-size="10.0" textLength="70.27" lengthAdjust="spacingAndGlyphs" fill="#000" >Pressure (bar)</text></g>
<text x="76.30" y="182.00" font-size="10.0" textLength="19.75" lengthAdjust="spacingAndGlyphs" fill="#000" >Day</text>
<text x="76.30" y="196.70" font-size="10.0" textLength="40.19" lengthAdjust="spacingAndGlyphs" fill="#000" >Evening</text>
<text x="76.30" y="211.40" font-size="10.0" textLength="26.87" lengthAdjust="spacingAndGlyphs" fill="#000" >Night</text>
<text x="76.30" y="226.10" font-size="10.0" textLength="40.48" lengthAdjust="spacingAndGlyphs" fill="#000" >Morning</text>
<text x="76.30" y="466.10" font-size="10.0" textLength="19.75" lengthAdjust="spacingAndGlyphs" fill="#000" >Day</text>
<text x="76.30" y="480.80" font-size="10.0" textLength="40.19" lengthAdjust="spacingAndGlyphs" fill="#000" >Evening</text>
<text x="76.30" y="495.50" font-size="10.0" textLength="26.87" lengthAdjust="spacingAndGlyphs" fill="#000" >Night</text>
<text x="76.30" y="510.20" font-size="10.0" textLength="40.48" lengthAdjust="spacingAndGlyphs" fill="#000" >Morning</text>
<text x="161.30" y="7.40" font-size="10.0" textLength="14.50" lengthAdjust="spacingAndGlyphs" fill="#000" >CH</text>
<text x="175.80" y="8.90" font-size="7.0" textLength="4.45" lengthAdjust="spacingAndGlyphs" fill="#000" >4</text>
<text x="183.43" y="7.40" font-size="10.0" textLength="32.15" lengthAdjust="spacingAndGlyphs" fill="#000" >(solar)</text>
<text x="153.60" y="291.60" font-size="10.0" textLength="7.52" lengthAdjust="spacingAndGlyphs" fill="#000" >H</text>
<text x="161.12" y="293.10" font-size="7.0" textLength="4.45" lengthAdjust="spacingAndGlyphs" fill="#000" >2</text>
<text x="165.57" y="291.60" font-size="10.0" textLength="58.17" lengthAdjust="spacingAndGlyphs" fill="#000" >O (C/O = 2)</text>
</g>
</svg>
</body></html>
